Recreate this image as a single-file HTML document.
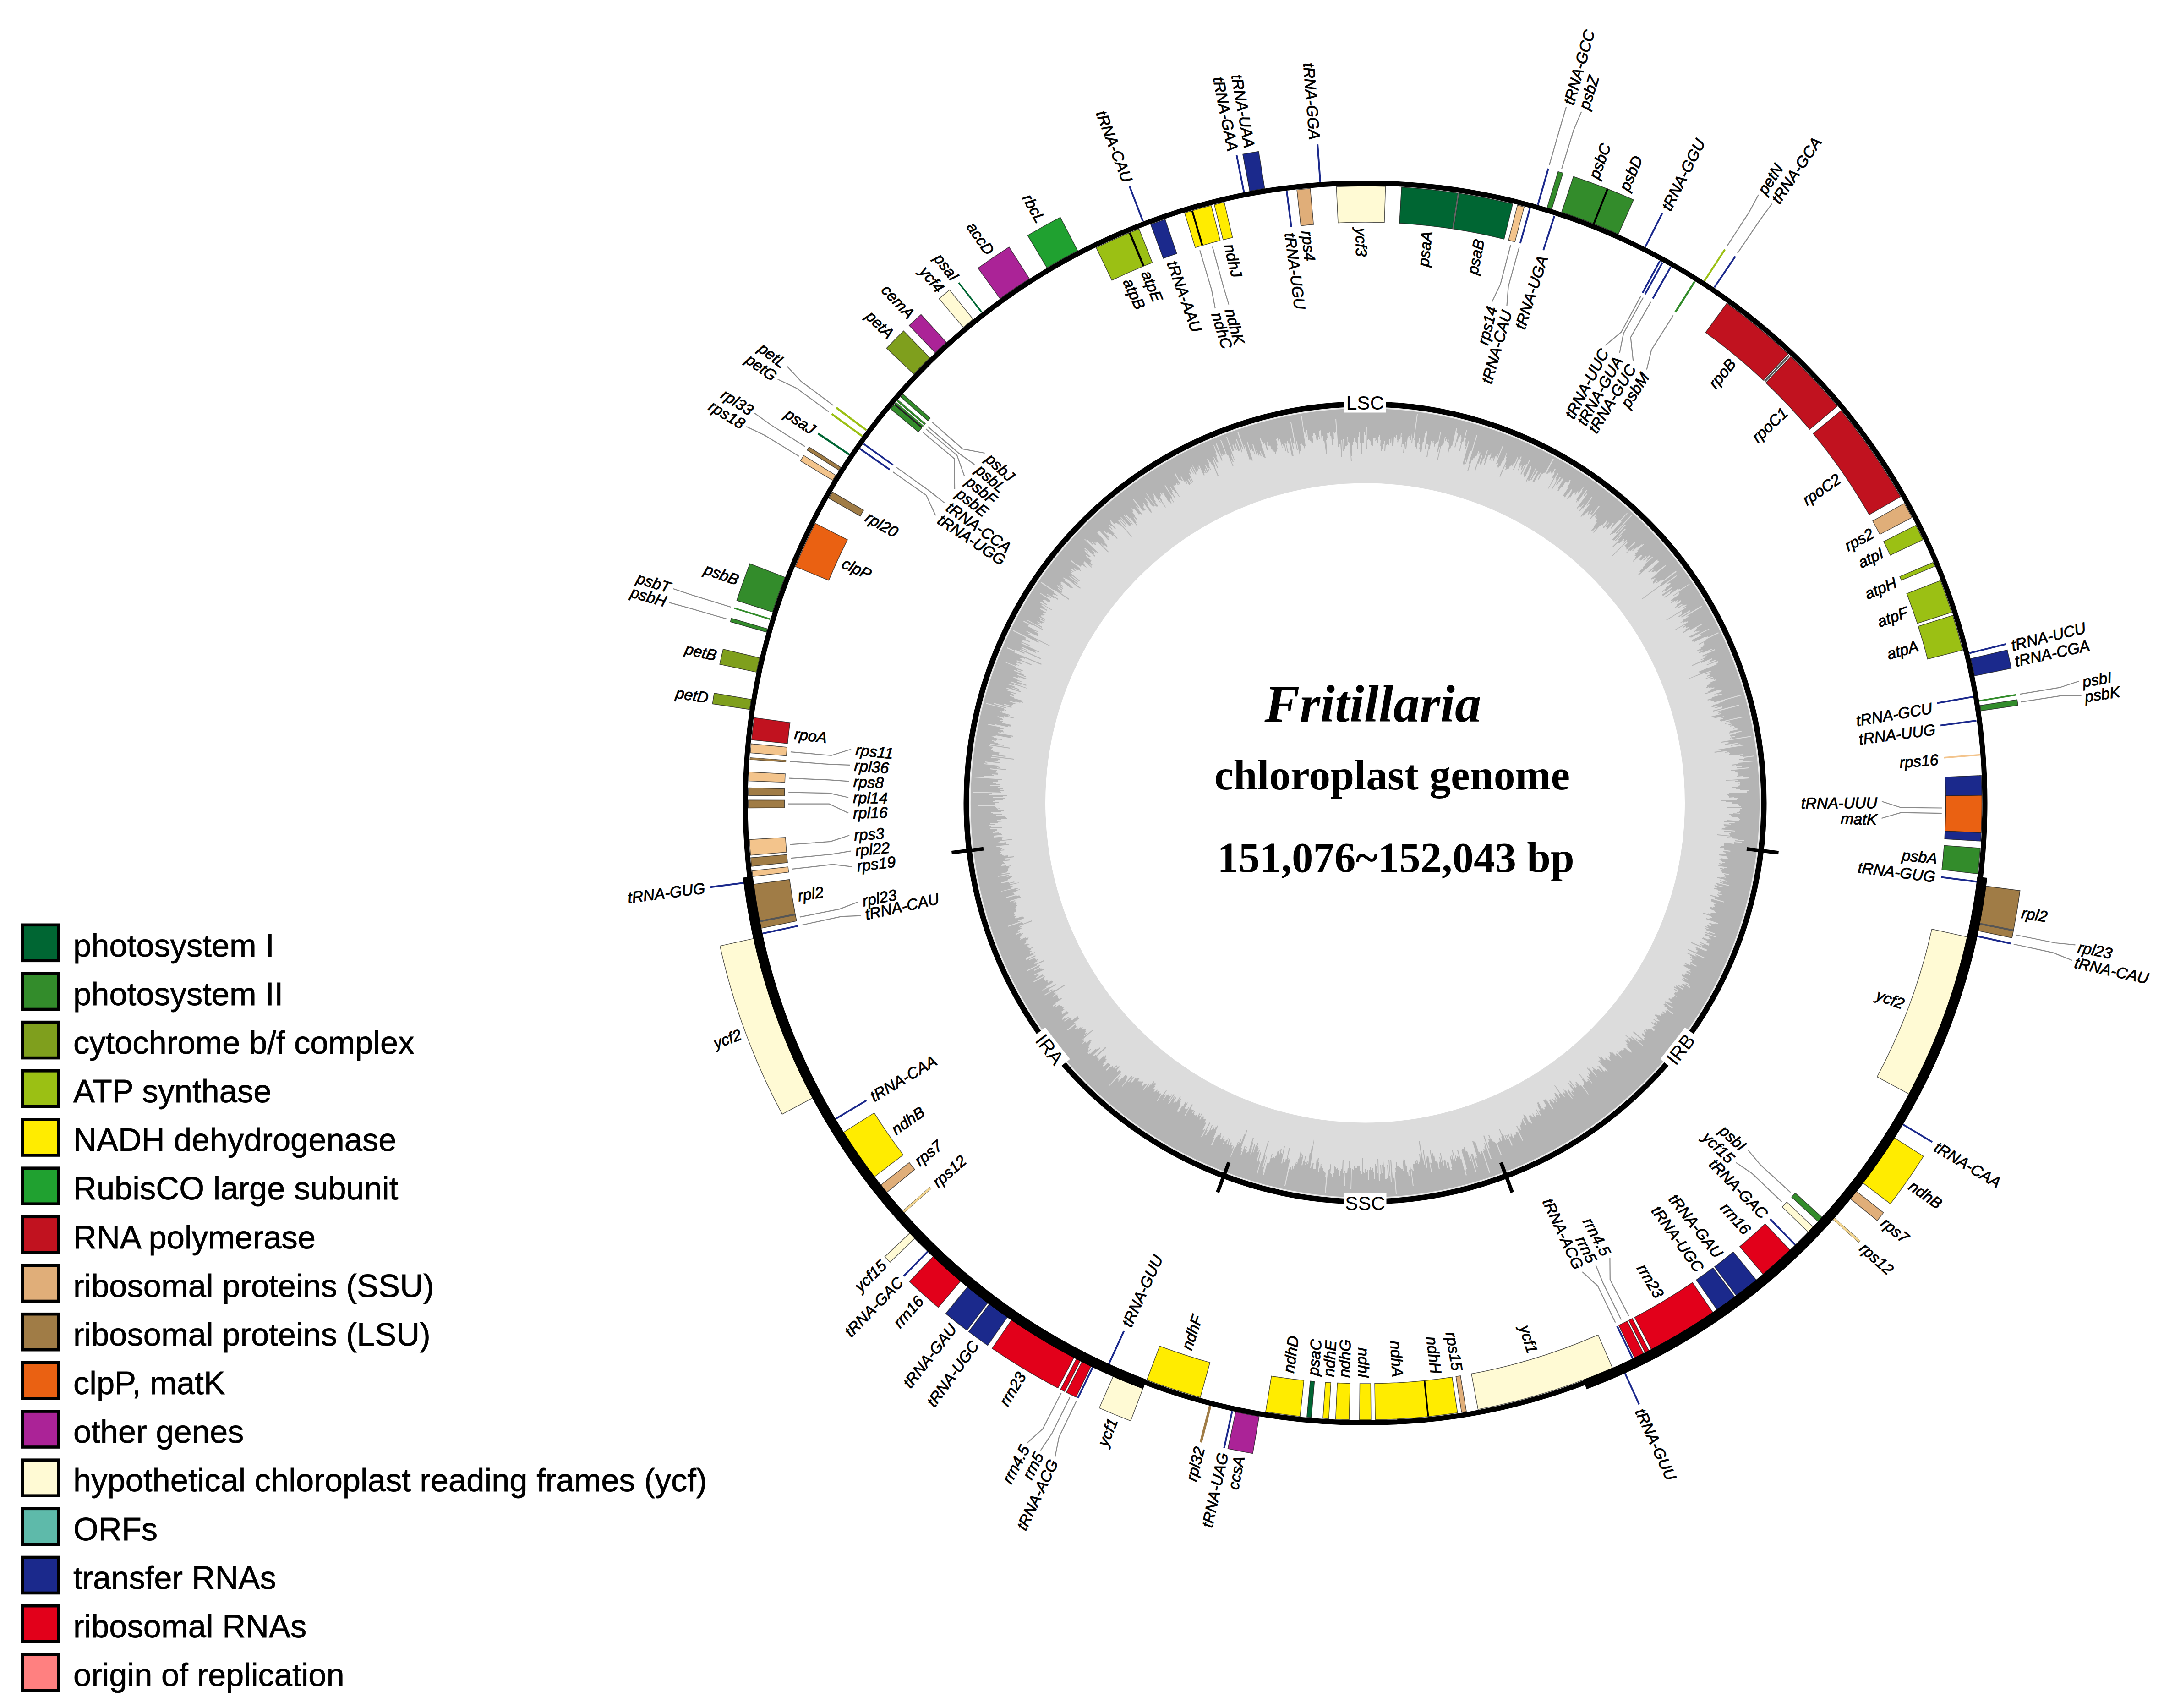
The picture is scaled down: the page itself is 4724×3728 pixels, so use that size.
<!DOCTYPE html>
<html><head><meta charset="utf-8"><title>Fritillaria chloroplast genome</title>
<style>html,body{margin:0;padding:0;background:#fff}svg{display:block}</style></head>
<body>
<svg width="4724" height="3728" viewBox="0 0 4724 3728">
<rect width="4724" height="3728" fill="#fff"/>
<circle cx="2980.0" cy="1752.5" r="781.0" fill="none" stroke="#dcdcdc" stroke-width="166.0"/>
<path d="M2980,888.5A864.0,864.0 0 1 1 2980,2616.5A864.0,864.0 0 1 1 2980,888.5ZM2980,949L2982,949L2982,932L2984,932L2983,979L2985,979L2985,961L2987,961L2987,958L2989,958L2989,961L2991,961L2991,963L2993,964L2993,971L2995,971L2995,974L2997,974L2997,956L2999,956L2999,956L3001,956L3001,955L3003,955L3002,963L3004,963L3004,961L3006,961L3006,966L3008,966L3009,954L3010,954L3011,950L3013,950L3012,960L3014,960L3013,974L3015,974L3015,984L3017,984L3017,980L3019,980L3019,969L3021,969L3022,963L3023,963L3022,985L3024,985L3025,971L3027,971L3027,970L3029,970L3029,975L3030,975L3031,972L3032,972L3033,959L3035,959L3035,968L3037,968L3038,954L3039,955L3038,973L3040,973L3040,969L3042,970L3043,953L3045,954L3045,956L3047,956L3048,949L3050,949L3049,960L3051,960L3050,965L3052,966L3053,960L3054,961L3055,959L3057,959L3058,946L3060,946L3059,954L3061,954L3059,976L3061,976L3061,970L3063,970L3063,969L3065,969L3063,988L3065,988L3068,964L3069,964L3068,979L3070,979L3073,955L3074,955L3075,952L3077,952L3076,957L3078,957L3078,961L3080,961L3082,946L3083,946L3081,967L3083,967L3084,956L3086,956L3093,904L3095,904L3087,961L3089,961L3088,970L3090,970L3089,976L3091,976L3091,978L3093,979L3094,968L3096,968L3098,957L3100,957L3098,969L3100,969L3098,980L3100,981L3099,987L3101,987L3101,986L3103,986L3106,964L3108,964L3111,945L3113,946L3114,941L3116,942L3110,980L3112,980L3113,970L3115,970L3115,969L3117,970L3117,971L3119,971L3114,997L3116,998L3119,979L3121,980L3124,963L3126,963L3125,968L3127,968L3128,963L3130,963L3129,967L3131,968L3130,974L3132,975L3133,969L3135,970L3135,966L3137,967L3138,964L3140,964L3144,942L3146,942L3137,986L3139,987L3142,975L3144,975L3137,1004L3139,1004L3146,973L3148,973L3149,970L3151,970L3154,954L3156,954L3154,962L3156,963L3157,959L3159,959L3158,965L3160,965L3161,959L3163,960L3161,967L3163,968L3162,970L3164,971L3160,987L3162,988L3164,979L3166,979L3168,973L3170,974L3179,934L3181,934L3179,944L3181,945L3181,945L3183,946L3175,976L3177,977L3180,963L3182,964L3185,952L3187,953L3188,950L3190,950L3189,954L3191,955L3188,966L3190,966L3185,984L3187,985L3192,964L3194,965L3201,938L3203,938L3198,956L3200,957L3198,965L3200,966L3198,973L3200,974L3198,979L3200,980L3205,963L3207,964L3193,1012L3195,1012L3194,1015L3196,1015L3200,1002L3201,1002L3199,1012L3200,1013L3209,985L3211,985L3211,985L3212,985L3223,950L3225,950L3206,1012L3208,1012L3203,1028L3205,1028L3213,1003L3215,1004L3216,1000L3218,1001L3220,995L3222,995L3222,995L3223,996L3227,985L3229,985L3227,991L3229,992L3230,987L3232,988L3219,1026L3221,1027L3226,1011L3228,1012L3234,994L3236,995L3230,1012L3232,1012L3231,1014L3233,1015L3238,1001L3240,1001L3246,983L3248,983L3240,1007L3242,1007L3239,1014L3241,1015L3249,993L3251,994L3251,994L3253,994L3254,989L3256,990L3251,1004L3253,1004L3255,999L3257,1000L3255,1005L3257,1006L3259,998L3261,999L3259,1005L3261,1006L3264,996L3266,997L3268,991L3270,992L3267,1000L3269,1000L3280,973L3282,973L3266,1012L3268,1013L3269,1011L3271,1012L3268,1018L3270,1019L3269,1020L3271,1021L3273,1017L3275,1018L3279,1007L3281,1008L3289,988L3290,989L3287,997L3289,998L3287,1003L3289,1004L3273,1040L3275,1041L3286,1015L3288,1015L3286,1019L3288,1020L3286,1025L3288,1026L3289,1023L3291,1024L3291,1023L3293,1024L3296,1017L3297,1018L3299,1014L3301,1015L3300,1016L3302,1017L3305,1010L3307,1011L3312,998L3314,999L3303,1025L3305,1025L3315,1002L3317,1003L3320,996L3322,997L3319,1003L3321,1004L3316,1014L3318,1015L3313,1027L3314,1027L3320,1016L3322,1016L3321,1019L3322,1019L3320,1025L3322,1026L3327,1014L3329,1015L3319,1035L3321,1036L3332,1013L3334,1014L3338,1004L3340,1005L3325,1035L3327,1036L3326,1038L3328,1039L3327,1041L3329,1042L3341,1017L3343,1018L3342,1020L3343,1021L3338,1033L3339,1034L3331,1050L3333,1051L3335,1046L3337,1047L3336,1049L3338,1050L3352,1022L3353,1023L3341,1047L3343,1048L3349,1037L3350,1037L3355,1028L3357,1029L3345,1052L3347,1053L3348,1051L3349,1052L3359,1035L3360,1036L3363,1031L3364,1032L3357,1046L3359,1047L3366,1034L3367,1035L3369,1032L3371,1033L3372,1031L3373,1032L3390,1001L3392,1002L3375,1034L3376,1035L3377,1033L3379,1034L3381,1031L3382,1032L3384,1029L3386,1030L3385,1031L3387,1032L3386,1033L3388,1034L3394,1023L3396,1024L3392,1031L3394,1032L3388,1043L3390,1044L3390,1042L3392,1043L3379,1067L3380,1067L3400,1033L3402,1034L3396,1044L3398,1045L3396,1048L3398,1049L3388,1066L3389,1067L3405,1041L3407,1042L3397,1058L3399,1059L3403,1052L3404,1053L3410,1044L3412,1046L3412,1045L3413,1046L3401,1066L3403,1067L3400,1071L3402,1072L3408,1063L3410,1064L3417,1052L3419,1053L3419,1052L3421,1053L3421,1053L3423,1054L3427,1047L3429,1049L3427,1051L3428,1053L3421,1064L3423,1065L3412,1082L3414,1083L3414,1083L3415,1084L3415,1084L3416,1086L3422,1077L3423,1078L3430,1068L3432,1069L3430,1072L3431,1073L3421,1089L3422,1090L3426,1085L3428,1086L3435,1075L3437,1076L3438,1074L3440,1075L3437,1079L3439,1080L3444,1072L3446,1073L3444,1076L3446,1077L3456,1063L3457,1064L3453,1070L3455,1071L3441,1090L3443,1092L3440,1096L3441,1097L3444,1093L3445,1095L3463,1069L3465,1070L3457,1081L3459,1083L3463,1077L3465,1078L3442,1109L3444,1110L3447,1105L3449,1106L3450,1106L3451,1107L3456,1100L3457,1101L3447,1115L3449,1116L3454,1109L3456,1110L3475,1084L3476,1086L3463,1103L3465,1104L3468,1100L3470,1101L3450,1127L3452,1128L3454,1125L3456,1126L3461,1120L3462,1121L3467,1115L3468,1116L3467,1118L3468,1119L3465,1124L3466,1125L3475,1114L3476,1115L3471,1122L3472,1123L3473,1122L3475,1124L3490,1104L3492,1105L3470,1133L3471,1134L3478,1126L3479,1127L3483,1122L3485,1123L3481,1129L3482,1130L3484,1127L3486,1128L3483,1132L3485,1133L3485,1132L3486,1134L3484,1137L3485,1138L3485,1139L3486,1140L3479,1149L3480,1150L3473,1159L3475,1160L3477,1157L3478,1158L3484,1152L3485,1153L3478,1162L3479,1163L3493,1147L3494,1148L3497,1145L3498,1147L3507,1136L3509,1138L3506,1141L3507,1142L3499,1151L3501,1153L3512,1140L3513,1141L3505,1150L3507,1151L3508,1150L3509,1151L3506,1155L3508,1156L3521,1141L3523,1142L3518,1148L3519,1149L3516,1153L3517,1154L3535,1135L3536,1136L3552,1119L3553,1120L3538,1137L3540,1138L3514,1167L3515,1168L3518,1165L3520,1166L3522,1163L3524,1164L3561,1124L3563,1125L3527,1163L3529,1165L3547,1145L3549,1146L3519,1178L3521,1179L3521,1178L3523,1180L3547,1154L3549,1155L3525,1180L3527,1181L3539,1168L3541,1169L3532,1178L3534,1179L3520,1193L3522,1194L3531,1185L3532,1186L3533,1185L3535,1186L3545,1176L3546,1178L3544,1179L3546,1181L3542,1185L3543,1186L3551,1178L3552,1180L3519,1213L3520,1214L3551,1183L3553,1185L3546,1191L3548,1192L3548,1192L3549,1194L3550,1193L3551,1195L3549,1196L3551,1197L3550,1198L3551,1200L3568,1183L3570,1185L3553,1200L3555,1202L3550,1206L3551,1207L3558,1201L3559,1203L3566,1197L3567,1198L3563,1202L3564,1203L3574,1194L3575,1196L3584,1188L3585,1189L3588,1187L3589,1188L3574,1202L3576,1203L3569,1209L3571,1211L3568,1213L3569,1214L3571,1213L3572,1215L3568,1218L3570,1219L3564,1225L3565,1226L3582,1211L3583,1212L3584,1212L3585,1213L3579,1219L3580,1220L3579,1221L3580,1223L3581,1222L3582,1224L3593,1214L3595,1215L3587,1222L3588,1224L3601,1212L3603,1214L3596,1219L3597,1221L3593,1225L3594,1226L3607,1215L3608,1217L3591,1231L3592,1233L3586,1238L3587,1240L3579,1247L3580,1248L3580,1248L3582,1249L3576,1254L3578,1255L3618,1221L3619,1223L3618,1224L3620,1225L3621,1224L3622,1226L3610,1236L3611,1237L3598,1248L3600,1249L3609,1242L3610,1243L3605,1247L3607,1249L3608,1248L3609,1249L3613,1246L3614,1248L3614,1248L3615,1249L3636,1233L3637,1235L3617,1251L3618,1252L3604,1263L3605,1265L3607,1263L3609,1264L3613,1261L3614,1262L3610,1266L3611,1267L3608,1270L3609,1271L3608,1272L3609,1274L3617,1267L3619,1269L3615,1272L3616,1273L3625,1267L3626,1268L3630,1266L3631,1267L3658,1246L3660,1248L3626,1273L3627,1275L3584,1307L3585,1308L3626,1278L3627,1279L3659,1256L3661,1257L3639,1273L3640,1275L3645,1272L3646,1273L3646,1273L3648,1274L3636,1283L3637,1284L3628,1291L3629,1293L3634,1288L3636,1290L3649,1281L3650,1283L3628,1298L3629,1299L3629,1299L3630,1301L3650,1287L3651,1289L3645,1293L3646,1295L3633,1303L3634,1305L3663,1285L3665,1287L3667,1285L3668,1287L3688,1274L3689,1275L3652,1300L3653,1301L3665,1293L3666,1295L3664,1297L3665,1298L3647,1310L3648,1312L3651,1310L3652,1312L3647,1315L3648,1317L3656,1311L3657,1313L3663,1309L3664,1311L3659,1314L3660,1316L3669,1310L3670,1312L3669,1313L3670,1314L3660,1320L3661,1322L3656,1326L3657,1327L3671,1318L3673,1320L3662,1326L3663,1328L3675,1320L3676,1322L3681,1319L3682,1321L3674,1326L3675,1327L3680,1324L3681,1326L3637,1353L3638,1354L3671,1334L3672,1336L3671,1337L3672,1338L3671,1339L3672,1340L3664,1345L3665,1347L3689,1332L3690,1334L3670,1346L3671,1348L3715,1322L3716,1324L3681,1345L3682,1346L3685,1344L3686,1346L3674,1353L3675,1355L3668,1359L3668,1360L3674,1357L3675,1359L3679,1356L3680,1358L3684,1356L3685,1358L3655,1375L3656,1376L3677,1364L3678,1366L3674,1368L3675,1370L3680,1367L3681,1369L3680,1369L3681,1371L3686,1368L3687,1370L3679,1374L3680,1376L3673,1380L3674,1382L3689,1373L3690,1375L3714,1362L3715,1364L3705,1369L3705,1371L3702,1373L3703,1375L3697,1378L3698,1380L3703,1377L3704,1379L3709,1376L3710,1378L3686,1390L3687,1392L3690,1390L3691,1392L3731,1372L3732,1373L3711,1384L3711,1386L3713,1385L3714,1387L3693,1397L3694,1399L3694,1399L3695,1401L3698,1399L3699,1401L3722,1390L3723,1391L3728,1389L3729,1391L3751,1380L3752,1382L3725,1395L3726,1397L3709,1405L3709,1407L3719,1402L3719,1404L3719,1404L3720,1406L3720,1406L3721,1408L3717,1409L3718,1411L3712,1414L3713,1416L3705,1419L3706,1421L3711,1419L3712,1420L3716,1419L3717,1420L3709,1424L3709,1426L3716,1423L3717,1425L3737,1416L3738,1417L3731,1421L3732,1422L3743,1417L3744,1419L3716,1431L3717,1433L3725,1430L3726,1431L3720,1434L3721,1436L3712,1440L3712,1441L3720,1438L3720,1440L3693,1452L3693,1454L3714,1445L3714,1447L3737,1437L3738,1439L3733,1441L3734,1443L3728,1445L3728,1447L3745,1440L3746,1442L3725,1451L3726,1452L3750,1443L3751,1445L3749,1445L3750,1447L3747,1448L3748,1450L3708,1466L3709,1468L3710,1467L3711,1469L3710,1469L3710,1471L3686,1481L3686,1482L3734,1464L3735,1466L3723,1470L3724,1472L3733,1468L3734,1470L3731,1471L3732,1473L3726,1475L3727,1477L3732,1475L3733,1477L3723,1481L3723,1482L3739,1477L3739,1479L3733,1481L3734,1483L3742,1480L3742,1482L3741,1482L3742,1484L3745,1483L3746,1485L3734,1489L3735,1491L3731,1492L3731,1494L3726,1496L3726,1498L3726,1498L3727,1499L3725,1500L3725,1502L3730,1500L3731,1502L3736,1500L3737,1502L3742,1500L3743,1502L3734,1505L3734,1507L3729,1509L3730,1511L3722,1513L3723,1515L3751,1506L3752,1507L3759,1505L3760,1507L3757,1508L3758,1510L3742,1515L3743,1516L3749,1514L3750,1516L3758,1514L3759,1516L3737,1522L3738,1524L3727,1527L3728,1529L3736,1527L3736,1528L3733,1529L3733,1531L3739,1530L3739,1531L3741,1531L3742,1533L3801,1516L3802,1518L3766,1528L3766,1530L3753,1534L3753,1535L3740,1539L3740,1541L3735,1543L3735,1544L3753,1540L3753,1541L3742,1545L3743,1546L3759,1542L3760,1544L3759,1544L3759,1546L3739,1551L3740,1553L3796,1538L3797,1540L3745,1554L3746,1555L3758,1552L3758,1554L3751,1556L3751,1558L3756,1557L3756,1559L3735,1564L3735,1566L3744,1564L3744,1566L3740,1567L3741,1568L3764,1563L3764,1565L3758,1566L3759,1568L3761,1568L3761,1569L3754,1571L3755,1573L3756,1573L3756,1575L3803,1564L3804,1566L3768,1574L3769,1576L3777,1574L3777,1576L3765,1579L3766,1580L3779,1577L3780,1579L3773,1581L3774,1583L3781,1581L3782,1583L3776,1584L3776,1586L3785,1584L3786,1586L3786,1586L3787,1588L3783,1589L3783,1591L3792,1589L3793,1591L3795,1590L3795,1592L3777,1596L3777,1598L3774,1599L3774,1601L3801,1595L3802,1597L3789,1600L3789,1602L3776,1604L3776,1606L3778,1606L3778,1608L3788,1606L3788,1608L3777,1610L3777,1612L3780,1611L3781,1613L3823,1606L3823,1608L3758,1619L3758,1621L3773,1619L3773,1621L3774,1620L3774,1622L3765,1624L3765,1626L3795,1621L3795,1623L3779,1626L3779,1628L3799,1624L3800,1626L3807,1625L3807,1627L3750,1636L3750,1638L3757,1637L3757,1639L3742,1641L3743,1643L3770,1639L3771,1641L3765,1641L3765,1643L3774,1642L3774,1644L3777,1644L3777,1645L3774,1646L3774,1648L3778,1647L3778,1649L3805,1646L3805,1648L3798,1649L3798,1651L3805,1650L3806,1652L3830,1649L3830,1651L3808,1654L3808,1656L3797,1657L3797,1659L3804,1658L3804,1660L3803,1660L3803,1662L3828,1660L3828,1662L3795,1665L3795,1667L3780,1669L3781,1671L3789,1670L3789,1672L3799,1671L3799,1673L3802,1672L3802,1674L3792,1675L3792,1677L3817,1675L3817,1677L3778,1681L3778,1682L3788,1682L3788,1684L3783,1684L3784,1686L3792,1685L3793,1687L3793,1687L3793,1689L3795,1689L3795,1691L3795,1691L3795,1693L3792,1693L3792,1695L3804,1694L3804,1696L3818,1695L3818,1697L3818,1697L3818,1699L3768,1703L3768,1704L3793,1703L3793,1705L3787,1705L3787,1707L3799,1707L3799,1708L3793,1709L3793,1711L3799,1710L3799,1712L3799,1712L3799,1714L3795,1715L3795,1717L3782,1717L3782,1719L3790,1719L3790,1721L3789,1721L3789,1723L3799,1722L3799,1724L3818,1724L3818,1726L3814,1726L3814,1728L3814,1728L3814,1730L3775,1731L3775,1733L3770,1733L3770,1735L3772,1735L3772,1737L3775,1737L3775,1739L3774,1739L3774,1741L3786,1740L3786,1742L3794,1742L3794,1744L3792,1744L3792,1746L3758,1746L3758,1748L3768,1748L3768,1750L3782,1750L3782,1752L3780,1752L3780,1754L3795,1754L3795,1756L3789,1756L3789,1758L3796,1758L3796,1760L3801,1760L3801,1762L3771,1762L3771,1764L3803,1764L3803,1766L3798,1766L3798,1768L3799,1768L3799,1770L3796,1770L3796,1772L3791,1772L3791,1774L3799,1774L3799,1776L3783,1775L3783,1777L3775,1777L3775,1779L3778,1779L3778,1781L3780,1781L3780,1783L3794,1784L3794,1786L3796,1786L3796,1788L3799,1788L3799,1790L3797,1790L3797,1792L3771,1790L3771,1792L3764,1792L3764,1794L3787,1795L3786,1797L3774,1796L3774,1798L3779,1798L3779,1800L3763,1799L3762,1801L3764,1801L3764,1803L3782,1805L3782,1806L3767,1805L3766,1807L3759,1807L3759,1809L3756,1808L3756,1810L3788,1813L3788,1815L3764,1813L3764,1815L3779,1816L3779,1818L3775,1818L3775,1819L3775,1820L3775,1821L3777,1822L3777,1824L3749,1821L3749,1823L3780,1826L3780,1828L3769,1827L3769,1829L3793,1831L3793,1833L3808,1834L3808,1836L3788,1834L3787,1836L3803,1838L3803,1840L3786,1838L3786,1840L3786,1840L3785,1842L3761,1839L3761,1841L3764,1841L3764,1843L3763,1843L3763,1845L3764,1845L3764,1847L3758,1847L3758,1848L3754,1848L3754,1850L3763,1851L3763,1853L3765,1853L3764,1855L3778,1857L3777,1859L3762,1857L3761,1858L3762,1859L3762,1860L3767,1861L3767,1863L3764,1863L3764,1865L3756,1864L3756,1865L3753,1865L3753,1867L3769,1869L3768,1871L3771,1871L3771,1873L3773,1874L3773,1876L3756,1873L3756,1875L3747,1874L3747,1875L3757,1877L3757,1879L3759,1879L3759,1881L3766,1882L3766,1884L3759,1883L3759,1885L3753,1884L3753,1886L3757,1887L3757,1889L3752,1888L3751,1890L3771,1893L3771,1895L3764,1894L3763,1896L3755,1894L3754,1896L3759,1897L3758,1899L3758,1899L3758,1900L3758,1900L3757,1902L3760,1903L3759,1905L3775,1908L3775,1910L3764,1908L3764,1909L3766,1910L3766,1912L3762,1911L3762,1913L3768,1914L3768,1916L3758,1914L3758,1916L3749,1914L3748,1916L3765,1920L3764,1921L3771,1923L3770,1925L3755,1921L3755,1923L3761,1925L3761,1927L3755,1925L3754,1927L3775,1932L3774,1934L3746,1927L3745,1929L3749,1930L3748,1932L3762,1935L3762,1937L3743,1932L3742,1934L3744,1934L3743,1936L3748,1937L3747,1939L3741,1938L3741,1940L3750,1942L3750,1944L3756,1945L3755,1947L3756,1947L3755,1949L3750,1948L3750,1950L3759,1952L3758,1954L3749,1952L3749,1953L3750,1954L3750,1956L3753,1956L3752,1958L3733,1953L3733,1955L3743,1958L3742,1960L3744,1960L3744,1962L3764,1968L3764,1970L3736,1962L3735,1964L3736,1964L3736,1966L3737,1966L3736,1968L3742,1970L3742,1971L3745,1972L3744,1974L3741,1973L3741,1975L3743,1976L3742,1977L3743,1978L3743,1980L3740,1979L3739,1981L3733,1979L3733,1981L3733,1981L3732,1982L3736,1984L3735,1985L3743,1988L3743,1990L3746,1991L3745,1992L3742,1992L3741,1993L3736,1992L3736,1994L3733,1993L3733,1995L3728,1993L3728,1995L3718,1992L3718,1994L3736,2000L3736,2002L3737,2002L3737,2004L3733,2003L3733,2005L3732,2004L3731,2006L3725,2004L3724,2006L3751,2015L3750,2017L3745,2015L3744,2017L3741,2016L3740,2017L3732,2014L3731,2016L3735,2018L3735,2020L3736,2020L3735,2022L3727,2019L3726,2021L3728,2021L3728,2023L3723,2022L3722,2023L3731,2027L3730,2028L3723,2026L3722,2027L3725,2028L3724,2030L3743,2037L3743,2039L3731,2035L3730,2037L3723,2034L3722,2036L3745,2044L3745,2046L3723,2038L3723,2040L3722,2039L3721,2041L3732,2045L3731,2047L3735,2049L3734,2051L3730,2049L3729,2051L3718,2046L3717,2048L3716,2048L3716,2049L3727,2054L3726,2056L3724,2055L3724,2057L3732,2060L3731,2062L3730,2062L3730,2064L3711,2056L3710,2058L3719,2061L3718,2063L3711,2060L3710,2062L3716,2064L3715,2066L3692,2056L3691,2058L3727,2073L3726,2075L3724,2074L3724,2076L3700,2066L3700,2068L3704,2069L3703,2071L3703,2071L3702,2073L3707,2075L3706,2077L3705,2076L3704,2078L3704,2078L3703,2079L3684,2071L3684,2073L3721,2090L3720,2092L3701,2083L3700,2085L3704,2086L3703,2088L3683,2079L3683,2081L3690,2084L3690,2086L3694,2088L3693,2090L3689,2088L3689,2090L3697,2094L3696,2095L3691,2093L3690,2094L3694,2097L3694,2098L3694,2098L3693,2100L3691,2099L3690,2101L3704,2108L3703,2110L3690,2103L3689,2105L3691,2106L3690,2107L3676,2101L3676,2102L3682,2106L3681,2107L3678,2105L3677,2107L3676,2107L3675,2108L3691,2117L3690,2118L3689,2117L3688,2119L3692,2122L3692,2123L3682,2119L3681,2120L3682,2121L3681,2122L3690,2127L3690,2129L3680,2124L3679,2126L3679,2125L3678,2127L3678,2127L3677,2129L3673,2126L3672,2128L3672,2128L3671,2130L3684,2137L3683,2138L3674,2133L3673,2135L3676,2137L3676,2139L3672,2137L3671,2139L3688,2148L3687,2150L3680,2146L3679,2148L3690,2154L3689,2156L3675,2147L3674,2149L3672,2148L3671,2150L3677,2153L3676,2155L3670,2151L3669,2153L3663,2149L3662,2151L3674,2158L3673,2160L3659,2151L3658,2153L3660,2154L3659,2156L3655,2153L3654,2155L3664,2161L3663,2163L3655,2158L3654,2160L3662,2164L3661,2166L3660,2165L3659,2167L3657,2165L3656,2167L3655,2167L3654,2169L3656,2170L3655,2171L3660,2175L3659,2176L3655,2173L3654,2175L3655,2176L3653,2177L3652,2176L3651,2178L3650,2177L3649,2179L3649,2179L3648,2181L3644,2178L3643,2180L3643,2179L3642,2181L3647,2185L3646,2186L3651,2189L3650,2191L3645,2188L3644,2189L3638,2186L3637,2187L3635,2185L3633,2187L3652,2199L3650,2201L3635,2190L3634,2192L3632,2191L3631,2192L3634,2194L3633,2196L3640,2200L3639,2202L3653,2212L3652,2214L3639,2204L3638,2206L3636,2205L3635,2206L3637,2208L3636,2209L3638,2211L3637,2212L3630,2207L3629,2209L3632,2212L3631,2213L3630,2212L3629,2214L3627,2212L3626,2214L3627,2215L3626,2216L3626,2216L3625,2218L3621,2215L3620,2217L3614,2213L3613,2214L3614,2215L3612,2216L3618,2220L3617,2222L3617,2222L3616,2223L3623,2228L3622,2230L3619,2228L3618,2229L3610,2224L3609,2225L3618,2232L3617,2234L3613,2231L3612,2233L3612,2232L3610,2234L3606,2230L3605,2232L3614,2239L3613,2240L3612,2239L3610,2241L3609,2240L3608,2242L3608,2241L3607,2243L3612,2247L3611,2249L3612,2250L3611,2251L3603,2245L3602,2246L3600,2245L3599,2247L3598,2246L3597,2248L3594,2245L3592,2246L3593,2247L3592,2248L3595,2251L3593,2252L3589,2248L3588,2250L3590,2252L3589,2253L3592,2255L3590,2257L3592,2258L3591,2260L3586,2255L3584,2257L3585,2257L3584,2259L3591,2265L3590,2266L3589,2266L3588,2267L3590,2269L3588,2270L3566,2251L3565,2253L3585,2270L3584,2272L3581,2269L3580,2271L3578,2269L3577,2271L3572,2266L3570,2267L3588,2283L3587,2284L3561,2262L3560,2263L3567,2270L3566,2271L3558,2264L3557,2266L3548,2258L3547,2259L3559,2270L3558,2272L3559,2273L3558,2274L3552,2268L3550,2270L3551,2271L3550,2272L3549,2271L3548,2272L3553,2277L3552,2279L3551,2278L3550,2279L3553,2282L3551,2283L3561,2293L3560,2294L3562,2296L3561,2298L3558,2295L3557,2296L3547,2287L3545,2288L3545,2288L3544,2289L3545,2290L3544,2292L3543,2291L3542,2293L3540,2291L3539,2292L3540,2294L3539,2295L3538,2294L3536,2295L3536,2295L3535,2296L3535,2297L3534,2298L3531,2295L3530,2296L3541,2308L3540,2309L3529,2299L3528,2300L3529,2300L3527,2302L3529,2304L3528,2305L3519,2296L3518,2298L3516,2296L3515,2297L3514,2297L3513,2298L3516,2301L3514,2302L3515,2303L3514,2304L3515,2305L3514,2307L3512,2305L3511,2306L3514,2310L3513,2311L3516,2314L3515,2316L3512,2313L3511,2314L3505,2308L3504,2310L3506,2312L3504,2313L3504,2312L3502,2314L3496,2307L3495,2308L3494,2308L3493,2309L3490,2305L3489,2307L3494,2313L3493,2314L3494,2316L3493,2317L3491,2314L3489,2316L3510,2338L3508,2339L3505,2336L3503,2337L3504,2337L3502,2339L3492,2327L3490,2328L3488,2326L3487,2327L3497,2338L3496,2340L3490,2333L3489,2334L3487,2333L3486,2334L3486,2335L3485,2336L3481,2332L3480,2333L3477,2329L3475,2330L3479,2334L3477,2336L3478,2336L3476,2337L3486,2349L3485,2350L3469,2332L3468,2333L3465,2330L3464,2331L3472,2341L3471,2342L3472,2344L3470,2345L3468,2342L3467,2343L3469,2346L3468,2347L3470,2350L3468,2351L3466,2348L3464,2349L3476,2364L3475,2365L3467,2355L3465,2356L3468,2359L3466,2360L3466,2360L3464,2361L3465,2361L3463,2362L3447,2343L3446,2344L3455,2355L3453,2356L3458,2362L3457,2363L3458,2365L3457,2366L3458,2368L3457,2369L3456,2369L3455,2370L3468,2388L3467,2389L3451,2368L3450,2369L3449,2369L3448,2370L3441,2361L3439,2362L3443,2367L3442,2368L3440,2366L3439,2368L3442,2372L3441,2373L3441,2373L3439,2374L3427,2358L3426,2360L3436,2373L3435,2375L3429,2367L3427,2368L3424,2363L3423,2364L3436,2383L3435,2384L3432,2380L3430,2381L3431,2382L3430,2384L3435,2392L3434,2393L3424,2378L3422,2380L3424,2382L3423,2383L3433,2398L3432,2399L3418,2380L3416,2381L3414,2378L3413,2379L3418,2386L3416,2387L3414,2384L3413,2385L3413,2386L3412,2387L3416,2394L3415,2395L3409,2387L3408,2388L3394,2368L3393,2369L3405,2387L3403,2388L3404,2389L3403,2390L3406,2395L3404,2396L3399,2387L3397,2388L3395,2385L3393,2386L3395,2389L3394,2390L3401,2401L3399,2402L3395,2395L3393,2396L3399,2405L3398,2406L3394,2400L3392,2401L3390,2398L3388,2399L3393,2406L3391,2407L3389,2404L3388,2405L3384,2399L3383,2400L3383,2401L3382,2402L3384,2406L3383,2407L3391,2420L3389,2421L3377,2402L3376,2403L3373,2399L3372,2400L3372,2400L3371,2401L3371,2401L3369,2402L3376,2414L3375,2415L3375,2415L3373,2416L3373,2416L3371,2417L3373,2420L3371,2421L3372,2421L3370,2422L3368,2419L3366,2420L3358,2405L3356,2406L3357,2407L3355,2408L3358,2412L3356,2413L3363,2425L3361,2426L3360,2423L3358,2424L3364,2434L3362,2435L3354,2421L3353,2422L3359,2433L3357,2434L3353,2427L3352,2428L3355,2433L3353,2434L3354,2435L3352,2436L3352,2437L3351,2438L3346,2430L3345,2431L3348,2437L3346,2438L3346,2437L3344,2437L3342,2434L3341,2435L3340,2434L3338,2435L3339,2436L3337,2436L3345,2452L3344,2453L3342,2450L3341,2451L3340,2449L3338,2450L3329,2433L3327,2433L3327,2432L3325,2433L3328,2439L3326,2440L3327,2440L3325,2441L3332,2455L3330,2456L3323,2442L3322,2443L3323,2446L3322,2447L3323,2450L3322,2451L3321,2450L3319,2451L3321,2454L3319,2455L3319,2455L3318,2456L3320,2462L3319,2462L3321,2467L3319,2467L3317,2463L3315,2464L3312,2457L3310,2458L3325,2489L3323,2490L3314,2471L3313,2472L3312,2470L3310,2471L3310,2471L3308,2472L3310,2475L3308,2476L3309,2477L3307,2478L3306,2476L3304,2477L3305,2479L3304,2480L3305,2483L3303,2484L3299,2474L3297,2475L3299,2479L3297,2479L3298,2482L3296,2482L3292,2472L3290,2472L3302,2500L3300,2501L3290,2477L3288,2478L3292,2486L3290,2487L3286,2477L3284,2477L3288,2487L3286,2488L3281,2475L3279,2476L3274,2464L3272,2464L3279,2480L3277,2481L3279,2487L3278,2487L3279,2490L3277,2491L3274,2484L3272,2484L3274,2490L3273,2490L3274,2493L3272,2493L3271,2492L3270,2493L3270,2495L3268,2495L3278,2520L3276,2521L3266,2495L3264,2495L3263,2492L3261,2493L3260,2491L3259,2492L3256,2485L3254,2486L3251,2477L3249,2478L3253,2487L3251,2487L3251,2487L3249,2487L3251,2492L3249,2492L3249,2494L3248,2495L3252,2506L3250,2507L3240,2478L3238,2479L3256,2529L3254,2530L3241,2494L3240,2495L3242,2502L3240,2503L3243,2510L3241,2511L3240,2507L3238,2507L3239,2512L3237,2512L3253,2559L3251,2560L3235,2512L3233,2512L3234,2515L3233,2516L3233,2518L3231,2519L3230,2515L3228,2515L3220,2490L3218,2490L3219,2492L3217,2492L3216,2490L3214,2491L3224,2523L3223,2523L3224,2528L3222,2528L3221,2524L3219,2524L3226,2547L3224,2547L3215,2518L3213,2518L3213,2518L3211,2519L3223,2558L3221,2559L3211,2524L3209,2525L3212,2534L3210,2534L3203,2513L3201,2513L3201,2513L3200,2514L3197,2504L3195,2504L3196,2508L3194,2508L3194,2507L3192,2507L3192,2509L3190,2509L3202,2551L3200,2552L3201,2554L3199,2555L3202,2565L3200,2566L3190,2529L3188,2529L3183,2510L3181,2511L3185,2524L3183,2525L3182,2523L3180,2524L3181,2527L3179,2527L3178,2522L3176,2523L3179,2534L3177,2535L3171,2509L3169,2509L3175,2532L3173,2533L3170,2521L3168,2521L3170,2530L3168,2530L3167,2524L3165,2525L3170,2547L3168,2548L3170,2553L3168,2553L3168,2553L3166,2554L3162,2536L3160,2536L3160,2536L3158,2537L3161,2550L3159,2550L3155,2531L3153,2532L3153,2532L3151,2533L3153,2543L3151,2544L3145,2516L3143,2516L3148,2537L3146,2537L3144,2526L3142,2526L3144,2535L3142,2536L3142,2540L3141,2540L3143,2552L3141,2552L3138,2536L3136,2536L3135,2534L3133,2534L3131,2522L3129,2523L3128,2517L3126,2518L3127,2522L3125,2522L3123,2510L3121,2511L3126,2538L3124,2539L3124,2537L3122,2538L3126,2558L3124,2558L3118,2523L3116,2523L3116,2524L3114,2525L3115,2528L3113,2529L3116,2548L3114,2549L3108,2511L3106,2511L3111,2541L3109,2542L3107,2530L3106,2531L3099,2490L3097,2490L3103,2527L3101,2528L3100,2519L3098,2519L3100,2533L3098,2533L3099,2536L3097,2537L3097,2540L3096,2541L3094,2531L3092,2531L3093,2539L3091,2539L3091,2534L3089,2535L3090,2544L3088,2544L3088,2541L3086,2541L3086,2540L3084,2540L3086,2555L3084,2555L3083,2552L3081,2552L3086,2589L3084,2589L3079,2546L3077,2546L3078,2553L3076,2553L3077,2566L3075,2567L3074,2557L3072,2558L3071,2545L3069,2546L3067,2531L3065,2531L3066,2534L3064,2535L3063,2530L3062,2530L3064,2556L3062,2556L3062,2552L3060,2552L3060,2551L3058,2551L3058,2549L3056,2549L3056,2548L3054,2548L3053,2544L3051,2544L3052,2546L3050,2546L3049,2536L3047,2536L3048,2550L3046,2550L3047,2557L3045,2557L3049,2606L3047,2606L3044,2570L3042,2571L3042,2568L3040,2568L3037,2531L3035,2531L3038,2579L3036,2580L3033,2531L3031,2531L3034,2566L3032,2566L3030,2542L3028,2542L3030,2572L3028,2572L3028,2573L3026,2573L3026,2573L3024,2573L3023,2547L3021,2547L3020,2534L3018,2535L3019,2543L3017,2543L3018,2561L3016,2561L3015,2543L3013,2543L3014,2562L3012,2562L3012,2578L3010,2578L3009,2530L3007,2530L3008,2561L3006,2561L3005,2545L3003,2545L3003,2541L3001,2541L3002,2573L3000,2573L3000,2558L2998,2558L2998,2550L2996,2550L2996,2549L2994,2549L2994,2554L2992,2554L2992,2548L2990,2548L2990,2554L2988,2554L2988,2576L2986,2576L2986,2553L2984,2553L2984,2557L2982,2557L2982,2552L2980,2552L2980,2561L2978,2561L2978,2552L2977,2552L2977,2559L2975,2559L2975,2527L2973,2527L2973,2562L2971,2562L2971,2556L2969,2556L2969,2545L2967,2545L2967,2544L2965,2544L2965,2545L2963,2545L2963,2549L2961,2549L2961,2549L2959,2549L2959,2555L2957,2555L2957,2544L2956,2544L2955,2553L2953,2553L2953,2551L2951,2551L2950,2596L2948,2596L2950,2550L2948,2550L2948,2538L2946,2538L2946,2534L2945,2534L2944,2550L2942,2550L2941,2560L2939,2560L2939,2561L2937,2560L2936,2589L2934,2589L2936,2555L2934,2555L2934,2561L2932,2561L2933,2531L2931,2531L2930,2551L2928,2551L2928,2556L2926,2556L2925,2566L2923,2566L2924,2550L2922,2550L2922,2554L2920,2554L2921,2550L2919,2549L2919,2551L2917,2551L2917,2548L2915,2547L2915,2546L2913,2546L2912,2561L2910,2561L2909,2569L2907,2568L2908,2562L2906,2562L2906,2561L2904,2561L2906,2542L2904,2541L2903,2552L2901,2552L2901,2554L2899,2553L2894,2604L2892,2604L2895,2569L2893,2569L2894,2560L2892,2559L2892,2559L2890,2559L2891,2556L2889,2556L2889,2550L2887,2550L2887,2557L2885,2557L2886,2545L2884,2545L2885,2540L2883,2540L2882,2551L2880,2550L2879,2558L2877,2558L2880,2536L2878,2536L2879,2528L2877,2528L2876,2532L2874,2531L2872,2552L2870,2552L2870,2552L2868,2552L2868,2551L2866,2551L2868,2538L2866,2538L2865,2540L2864,2540L2862,2549L2860,2549L2869,2487L2868,2487L2866,2501L2864,2500L2861,2517L2859,2517L2856,2540L2854,2540L2855,2535L2853,2535L2851,2543L2849,2543L2850,2537L2848,2537L2851,2523L2849,2523L2847,2534L2845,2534L2843,2544L2841,2543L2845,2522L2843,2522L2842,2526L2841,2526L2842,2518L2840,2517L2841,2513L2839,2513L2836,2529L2834,2529L2832,2540L2830,2540L2831,2537L2829,2537L2827,2546L2825,2546L2824,2551L2822,2550L2823,2545L2821,2545L2820,2553L2818,2552L2819,2548L2817,2547L2816,2552L2814,2552L2806,2588L2804,2588L2816,2531L2814,2530L2814,2532L2812,2532L2813,2527L2811,2527L2816,2506L2814,2505L2809,2529L2807,2529L2805,2537L2803,2537L2803,2536L2802,2535L2803,2529L2801,2529L2799,2540L2797,2539L2805,2502L2803,2502L2800,2518L2798,2518L2798,2517L2796,2517L2798,2508L2796,2507L2793,2521L2791,2520L2794,2509L2792,2509L2791,2512L2789,2512L2786,2524L2784,2524L2784,2527L2782,2527L2782,2526L2780,2525L2780,2527L2778,2527L2777,2528L2775,2528L2778,2519L2776,2519L2771,2538L2769,2538L2768,2539L2766,2538L2759,2565L2757,2565L2759,2557L2757,2557L2766,2524L2765,2523L2758,2548L2756,2548L2763,2521L2761,2520L2770,2491L2768,2490L2755,2535L2753,2534L2745,2562L2743,2562L2751,2536L2749,2535L2750,2533L2748,2533L2753,2516L2751,2515L2745,2536L2743,2535L2750,2511L2748,2510L2747,2515L2745,2514L2748,2505L2746,2505L2747,2501L2745,2501L2747,2495L2745,2494L2744,2500L2742,2499L2736,2516L2735,2516L2740,2498L2738,2497L2731,2520L2729,2519L2733,2507L2732,2506L2736,2494L2734,2493L2737,2484L2735,2483L2725,2515L2723,2514L2722,2516L2720,2515L2722,2511L2720,2510L2722,2504L2720,2503L2719,2508L2717,2507L2719,2502L2717,2501L2710,2521L2708,2521L2711,2513L2709,2513L2711,2506L2709,2506L2723,2467L2721,2466L2718,2477L2716,2476L2709,2495L2707,2495L2710,2487L2708,2487L2704,2497L2703,2496L2704,2493L2702,2493L2698,2504L2696,2503L2687,2525L2686,2524L2694,2503L2692,2502L2690,2507L2688,2506L2691,2500L2689,2500L2689,2500L2687,2499L2689,2494L2687,2493L2684,2500L2682,2500L2683,2497L2682,2497L2686,2485L2684,2485L2679,2498L2677,2497L2682,2485L2681,2484L2679,2489L2677,2488L2675,2492L2673,2491L2670,2498L2669,2498L2674,2486L2672,2485L2671,2487L2669,2486L2671,2481L2670,2480L2667,2486L2665,2486L2665,2487L2663,2486L2666,2479L2664,2478L2667,2473L2665,2472L2662,2478L2661,2477L2660,2478L2658,2477L2657,2482L2655,2481L2646,2500L2644,2499L2651,2484L2649,2483L2655,2470L2654,2469L2659,2457L2658,2456L2656,2460L2654,2459L2652,2465L2650,2464L2651,2461L2650,2460L2647,2465L2646,2464L2644,2467L2643,2466L2647,2456L2645,2456L2639,2470L2637,2469L2633,2478L2631,2477L2636,2467L2634,2466L2642,2451L2640,2450L2624,2482L2622,2481L2631,2465L2629,2464L2627,2467L2625,2467L2633,2451L2631,2450L2631,2451L2629,2450L2633,2443L2631,2442L2631,2443L2629,2442L2629,2443L2627,2442L2628,2440L2627,2439L2628,2437L2626,2436L2624,2440L2622,2439L2620,2444L2618,2443L2624,2431L2623,2430L2620,2436L2618,2435L2620,2431L2618,2430L2614,2438L2612,2438L2614,2435L2612,2435L2612,2434L2611,2433L2609,2435L2608,2434L2608,2434L2606,2433L2608,2431L2606,2430L2609,2425L2607,2424L2604,2430L2602,2429L2606,2423L2604,2422L2603,2423L2602,2422L2602,2422L2600,2421L2601,2420L2599,2420L2604,2411L2602,2410L2587,2436L2585,2436L2596,2417L2594,2416L2592,2421L2590,2420L2589,2421L2588,2420L2588,2420L2586,2419L2593,2407L2592,2406L2590,2409L2589,2408L2590,2406L2588,2405L2583,2414L2581,2413L2573,2427L2571,2426L2570,2427L2569,2426L2577,2412L2576,2411L2577,2409L2575,2408L2578,2405L2576,2404L2579,2399L2577,2398L2575,2401L2574,2400L2578,2394L2576,2393L2569,2405L2567,2404L2566,2405L2565,2404L2563,2407L2561,2406L2568,2396L2566,2395L2564,2398L2562,2397L2565,2394L2563,2393L2552,2410L2550,2409L2564,2389L2562,2388L2552,2403L2551,2402L2559,2389L2558,2388L2555,2393L2553,2392L2552,2393L2551,2392L2553,2389L2551,2388L2550,2390L2548,2389L2540,2400L2539,2399L2545,2390L2544,2388L2541,2392L2540,2391L2547,2380L2546,2379L2538,2390L2536,2389L2526,2404L2525,2403L2535,2388L2534,2386L2533,2387L2532,2386L2531,2388L2529,2386L2532,2383L2530,2382L2530,2383L2528,2381L2527,2383L2525,2382L2527,2380L2526,2378L2523,2382L2522,2381L2520,2383L2518,2382L2521,2378L2520,2377L2519,2378L2517,2377L2522,2371L2520,2370L2524,2366L2522,2364L2522,2365L2520,2364L2519,2365L2518,2364L2520,2361L2518,2360L2513,2368L2511,2367L2506,2374L2504,2373L2509,2367L2507,2366L2497,2379L2495,2378L2504,2367L2502,2366L2502,2366L2501,2365L2499,2367L2498,2366L2495,2370L2493,2369L2493,2368L2492,2367L2496,2362L2494,2361L2495,2360L2493,2359L2492,2361L2490,2360L2489,2361L2488,2360L2487,2361L2485,2360L2485,2361L2483,2360L2488,2353L2487,2352L2486,2353L2485,2352L2483,2354L2481,2353L2480,2355L2479,2353L2471,2363L2469,2361L2471,2359L2470,2358L2475,2352L2474,2350L2464,2362L2462,2361L2472,2350L2470,2348L2450,2372L2449,2371L2459,2359L2457,2357L2460,2354L2459,2353L2461,2350L2460,2349L2460,2349L2459,2347L2459,2347L2457,2346L2451,2353L2450,2352L2441,2361L2440,2360L2443,2357L2441,2356L2442,2355L2440,2354L2447,2346L2446,2345L2422,2370L2421,2369L2448,2339L2447,2337L2446,2339L2444,2337L2445,2337L2443,2336L2439,2340L2438,2339L2439,2337L2438,2336L2445,2328L2444,2327L2442,2329L2441,2327L2436,2333L2434,2331L2439,2327L2437,2325L2431,2332L2430,2331L2431,2330L2429,2328L2430,2328L2428,2326L2426,2329L2424,2328L2416,2337L2414,2335L2424,2325L2423,2324L2424,2323L2422,2322L2422,2322L2421,2320L2420,2321L2418,2320L2408,2330L2407,2329L2409,2327L2407,2326L2410,2323L2408,2322L2414,2316L2413,2315L2416,2312L2414,2310L2413,2312L2412,2310L2415,2307L2414,2305L2415,2304L2414,2303L2411,2306L2410,2304L2397,2316L2396,2315L2399,2312L2398,2310L2397,2311L2396,2310L2396,2309L2395,2308L2396,2307L2395,2305L2415,2287L2413,2285L2393,2304L2392,2302L2389,2305L2388,2304L2386,2305L2385,2304L2402,2288L2401,2286L2398,2289L2397,2288L2394,2291L2392,2289L2380,2300L2379,2299L2376,2301L2375,2299L2375,2299L2374,2298L2382,2290L2381,2289L2376,2293L2375,2292L2376,2290L2375,2289L2378,2286L2377,2285L2377,2285L2375,2283L2379,2280L2378,2279L2381,2276L2380,2274L2383,2271L2382,2270L2381,2271L2379,2270L2372,2276L2370,2275L2371,2275L2369,2273L2364,2278L2362,2277L2367,2273L2365,2272L2367,2270L2366,2268L2364,2270L2363,2269L2387,2248L2386,2247L2367,2262L2366,2261L2374,2255L2373,2253L2369,2256L2368,2254L2371,2252L2370,2250L2370,2250L2369,2249L2371,2247L2370,2245L2368,2247L2367,2245L2366,2246L2365,2245L2362,2247L2361,2245L2364,2243L2363,2242L2360,2243L2359,2242L2351,2248L2350,2247L2353,2244L2352,2243L2347,2247L2346,2245L2351,2241L2349,2240L2349,2240L2348,2238L2349,2237L2348,2236L2331,2249L2329,2248L2348,2233L2347,2232L2345,2233L2344,2232L2356,2223L2355,2221L2354,2222L2353,2220L2354,2219L2353,2218L2340,2227L2339,2226L2339,2226L2338,2224L2341,2222L2339,2221L2338,2222L2336,2221L2324,2230L2323,2228L2333,2221L2332,2219L2326,2224L2325,2222L2319,2226L2318,2224L2322,2222L2320,2220L2333,2211L2332,2209L2332,2210L2331,2208L2330,2208L2329,2207L2319,2214L2318,2212L2318,2212L2317,2211L2318,2210L2317,2208L2324,2203L2323,2202L2321,2203L2320,2202L2322,2200L2321,2198L2320,2199L2319,2198L2319,2198L2318,2196L2317,2196L2316,2195L2315,2195L2314,2194L2315,2193L2314,2192L2305,2198L2304,2196L2306,2194L2305,2193L2299,2197L2298,2195L2305,2190L2304,2189L2318,2180L2317,2178L2312,2181L2311,2180L2311,2180L2310,2178L2310,2178L2309,2177L2310,2176L2309,2175L2308,2175L2307,2173L2309,2172L2308,2170L2299,2176L2298,2174L2305,2170L2304,2168L2305,2168L2304,2166L2302,2168L2301,2166L2325,2151L2324,2149L2303,2162L2302,2160L2281,2173L2280,2171L2298,2161L2297,2159L2288,2164L2287,2163L2290,2161L2289,2159L2305,2150L2305,2148L2292,2155L2291,2154L2276,2162L2275,2161L2285,2155L2284,2153L2298,2145L2297,2144L2299,2143L2298,2141L2296,2142L2295,2140L2288,2145L2287,2143L2287,2143L2286,2141L2289,2140L2288,2138L2282,2141L2281,2139L2280,2140L2279,2138L2280,2138L2279,2136L2280,2136L2279,2134L2282,2132L2281,2131L2257,2144L2256,2142L2278,2130L2277,2128L2277,2129L2276,2127L2262,2135L2261,2133L2268,2129L2267,2127L2266,2128L2265,2126L2259,2129L2258,2127L2278,2117L2278,2115L2276,2116L2276,2114L2274,2115L2273,2113L2271,2114L2271,2112L2258,2119L2257,2117L2269,2111L2268,2109L2271,2108L2270,2106L2242,2120L2241,2118L2264,2107L2264,2105L2279,2098L2278,2096L2261,2104L2260,2103L2258,2104L2257,2102L2265,2098L2264,2096L2266,2095L2266,2093L2262,2095L2261,2094L2261,2094L2260,2092L2261,2091L2260,2090L2246,2096L2246,2094L2261,2087L2260,2085L2240,2095L2239,2093L2240,2093L2239,2091L2257,2083L2256,2081L2259,2079L2259,2078L2249,2082L2248,2080L2249,2080L2248,2078L2252,2077L2251,2075L2247,2076L2247,2075L2251,2073L2250,2071L2256,2068L2255,2067L2247,2070L2246,2068L2245,2069L2244,2067L2244,2067L2243,2065L2244,2065L2243,2063L2248,2061L2247,2060L2244,2061L2243,2059L2237,2062L2236,2060L2240,2058L2239,2057L2241,2056L2240,2054L2241,2054L2240,2052L2245,2050L2244,2048L2246,2048L2245,2046L2240,2048L2239,2046L2227,2051L2227,2049L2228,2049L2227,2047L2226,2047L2226,2045L2229,2044L2228,2042L2232,2041L2231,2039L2233,2038L2233,2036L2229,2038L2228,2036L2219,2040L2218,2038L2227,2034L2226,2033L2222,2034L2221,2032L2223,2032L2223,2030L2230,2027L2229,2025L2228,2026L2227,2024L2230,2023L2229,2021L2225,2023L2225,2021L2253,2011L2252,2009L2234,2016L2233,2014L2231,2015L2230,2013L2200,2023L2200,2021L2228,2011L2227,2010L2223,2011L2222,2009L2235,2005L2234,2003L2235,2003L2234,2001L2233,2002L2232,2000L2217,2005L2216,2003L2216,2003L2216,2001L2217,2001L2217,1999L2215,2000L2214,1998L2216,1997L2215,1995L2215,1995L2214,1994L2214,1994L2213,1992L2218,1990L2217,1989L2217,1989L2217,1987L2217,1987L2217,1985L2216,1985L2215,1983L2219,1982L2218,1980L2219,1980L2219,1978L2221,1977L2220,1976L2219,1976L2218,1974L2220,1974L2219,1972L2218,1972L2218,1970L2217,1971L2217,1969L2213,1970L2212,1968L2217,1967L2216,1965L2205,1968L2205,1966L2229,1959L2229,1957L2227,1958L2227,1956L2226,1956L2225,1954L2220,1956L2219,1954L2197,1960L2196,1958L2215,1953L2214,1952L2214,1952L2214,1950L2211,1950L2210,1949L2218,1947L2217,1945L2227,1942L2226,1941L2218,1943L2218,1941L2222,1940L2221,1938L2186,1946L2186,1945L2206,1940L2206,1938L2209,1937L2209,1935L2212,1934L2211,1933L2206,1934L2205,1932L2225,1927L2225,1926L2205,1930L2205,1928L2215,1926L2214,1924L2203,1927L2202,1925L2186,1928L2186,1926L2199,1923L2199,1922L2200,1921L2200,1919L2205,1918L2205,1916L2206,1916L2206,1914L2209,1914L2209,1912L2198,1914L2197,1912L2203,1911L2203,1909L2178,1914L2178,1912L2205,1907L2205,1905L2186,1908L2185,1907L2198,1904L2198,1902L2201,1902L2201,1900L2199,1900L2199,1898L2200,1898L2200,1896L2202,1895L2202,1894L2204,1893L2203,1891L2206,1891L2206,1889L2196,1891L2196,1889L2186,1890L2186,1889L2188,1888L2188,1886L2194,1885L2193,1883L2192,1884L2191,1882L2190,1882L2190,1880L2205,1878L2205,1876L2194,1877L2194,1876L2192,1876L2192,1874L2213,1871L2213,1869L2201,1870L2201,1869L2200,1869L2200,1867L2191,1868L2190,1866L2188,1867L2188,1865L2182,1865L2182,1864L2184,1863L2184,1861L2186,1861L2186,1859L2184,1859L2183,1857L2193,1856L2192,1854L2186,1855L2186,1853L2187,1853L2187,1851L2185,1851L2184,1850L2184,1850L2184,1848L2176,1849L2175,1847L2202,1844L2202,1842L2197,1842L2196,1840L2197,1840L2197,1838L2178,1841L2178,1839L2183,1838L2182,1836L2209,1833L2209,1831L2187,1834L2187,1832L2187,1832L2187,1830L2180,1830L2180,1829L2191,1827L2191,1826L2169,1828L2169,1826L2170,1826L2170,1824L2188,1822L2188,1820L2186,1820L2186,1818L2181,1819L2181,1817L2168,1818L2168,1816L2171,1816L2171,1814L2176,1813L2176,1811L2177,1811L2177,1809L2162,1810L2162,1808L2188,1807L2187,1805L2176,1805L2176,1804L2164,1804L2164,1802L2158,1803L2158,1801L2171,1800L2171,1798L2161,1798L2161,1797L2178,1796L2178,1794L2188,1793L2188,1791L2176,1792L2176,1790L2186,1789L2186,1787L2199,1787L2199,1785L2196,1785L2196,1783L2194,1783L2194,1781L2190,1782L2190,1780L2175,1780L2175,1778L2187,1778L2187,1776L2168,1776L2168,1775L2163,1775L2163,1773L2186,1772L2186,1770L2191,1770L2191,1768L2178,1768L2178,1766L2183,1766L2183,1764L2176,1765L2176,1763L2174,1763L2174,1761L2173,1761L2173,1759L2135,1759L2135,1757L2172,1757L2172,1755L2172,1755L2172,1753L2180,1753L2180,1751L2168,1751L2168,1749L2171,1749L2171,1747L2189,1747L2189,1745L2189,1745L2189,1743L2195,1743L2195,1742L2167,1741L2167,1739L2189,1740L2189,1738L2198,1738L2198,1736L2160,1735L2160,1733L2166,1733L2166,1731L2124,1730L2124,1728L2186,1730L2186,1728L2183,1728L2183,1726L2192,1726L2192,1724L2184,1724L2184,1722L2189,1722L2189,1720L2178,1720L2178,1718L2183,1718L2183,1716L2162,1715L2162,1713L2183,1714L2183,1712L2175,1712L2175,1710L2170,1710L2170,1708L2168,1708L2168,1706L2178,1706L2178,1704L2178,1704L2178,1702L2188,1703L2188,1701L2126,1697L2126,1695L2151,1697L2151,1695L2149,1695L2149,1693L2169,1694L2170,1692L2165,1692L2165,1690L2179,1691L2179,1689L2179,1689L2179,1687L2171,1686L2171,1684L2175,1685L2175,1683L2176,1683L2176,1681L2161,1679L2161,1677L2196,1681L2196,1679L2177,1677L2177,1675L2182,1676L2182,1674L2178,1673L2178,1671L2149,1668L2149,1666L2155,1667L2156,1665L2150,1664L2150,1662L2183,1666L2184,1664L2169,1662L2169,1660L2180,1662L2180,1660L2179,1660L2179,1658L2184,1658L2184,1656L2164,1654L2164,1652L2213,1658L2213,1656L2166,1650L2166,1648L2195,1652L2196,1650L2180,1648L2181,1646L2181,1646L2181,1644L2184,1645L2184,1643L2167,1640L2167,1638L2164,1638L2164,1636L2164,1636L2164,1634L2166,1634L2166,1632L2167,1632L2167,1630L2160,1629L2160,1627L2205,1634L2205,1632L2161,1625L2161,1623L2192,1628L2192,1626L2178,1624L2179,1622L2169,1620L2169,1618L2166,1618L2166,1616L2175,1617L2175,1616L2176,1616L2176,1614L2187,1615L2187,1614L2169,1610L2169,1608L2164,1607L2164,1606L2173,1607L2174,1605L2207,1611L2207,1609L2205,1609L2206,1607L2211,1608L2212,1606L2178,1600L2178,1598L2186,1599L2186,1597L2192,1599L2192,1597L2189,1596L2189,1594L2181,1592L2181,1591L2190,1592L2191,1590L2182,1589L2183,1587L2157,1582L2158,1580L2172,1583L2173,1581L2201,1587L2201,1585L2208,1586L2208,1584L2207,1584L2207,1582L2188,1578L2188,1576L2189,1576L2189,1574L2183,1573L2183,1571L2190,1572L2190,1570L2187,1570L2187,1568L2177,1565L2178,1563L2192,1567L2192,1565L2191,1565L2191,1563L2212,1568L2213,1566L2200,1563L2200,1561L2204,1562L2204,1560L2183,1554L2183,1552L2187,1553L2187,1551L2191,1552L2192,1550L2197,1552L2197,1550L2191,1548L2192,1546L2152,1536L2152,1534L2196,1546L2196,1544L2169,1536L2169,1534L2208,1545L2209,1543L2191,1538L2192,1536L2208,1541L2209,1539L2211,1539L2211,1538L2212,1538L2212,1536L2217,1537L2218,1536L2200,1530L2201,1529L2216,1533L2217,1531L2227,1534L2228,1532L2233,1534L2233,1532L2230,1531L2231,1529L2213,1524L2214,1522L2204,1519L2205,1517L2214,1520L2214,1518L2212,1518L2213,1516L2208,1514L2208,1512L2217,1515L2217,1513L2198,1507L2199,1505L2202,1506L2203,1505L2197,1503L2198,1501L2228,1511L2229,1509L2206,1501L2207,1500L2225,1506L2225,1504L2214,1500L2215,1498L2201,1494L2201,1492L2213,1496L2214,1494L2242,1503L2243,1502L2206,1489L2206,1487L2229,1495L2230,1493L2240,1497L2241,1495L2221,1488L2221,1486L2231,1489L2231,1488L2220,1483L2221,1482L2212,1479L2213,1477L2222,1480L2223,1478L2226,1479L2226,1478L2240,1483L2241,1481L2220,1473L2221,1471L2239,1478L2240,1476L2235,1475L2236,1473L2213,1464L2214,1462L2229,1468L2230,1466L2220,1463L2221,1461L2232,1465L2233,1463L2219,1458L2219,1456L2195,1446L2195,1445L2217,1453L2217,1451L2224,1453L2224,1452L2218,1449L2219,1447L2219,1448L2220,1446L2230,1450L2231,1448L2219,1443L2220,1441L2227,1444L2228,1442L2251,1452L2252,1450L2230,1441L2231,1440L2227,1438L2228,1436L2230,1437L2231,1435L2237,1438L2237,1436L2273,1451L2274,1449L2214,1424L2215,1422L2198,1415L2199,1413L2215,1420L2216,1418L2236,1427L2237,1425L2226,1420L2226,1418L2272,1439L2273,1437L2229,1417L2230,1415L2241,1420L2242,1419L2231,1414L2232,1412L2261,1425L2261,1423L2257,1421L2258,1420L2268,1424L2268,1422L2229,1404L2230,1402L2247,1410L2248,1408L2231,1401L2232,1399L2232,1399L2233,1397L2238,1399L2239,1398L2248,1402L2249,1400L2239,1396L2240,1394L2238,1393L2239,1391L2211,1377L2212,1375L2267,1403L2268,1401L2263,1398L2264,1397L2291,1410L2292,1409L2245,1385L2246,1383L2249,1385L2249,1383L2240,1378L2241,1377L2266,1389L2266,1387L2265,1386L2266,1385L2265,1384L2266,1382L2258,1378L2259,1377L2266,1380L2267,1379L2244,1367L2245,1365L2245,1365L2246,1363L2234,1357L2235,1355L2254,1365L2255,1364L2276,1375L2276,1373L2242,1354L2243,1353L2274,1370L2275,1368L2264,1362L2265,1360L2271,1363L2272,1362L2264,1357L2265,1356L2274,1361L2275,1359L2277,1360L2278,1358L2270,1354L2271,1352L2280,1357L2281,1355L2268,1348L2269,1347L2281,1353L2282,1352L2273,1346L2274,1344L2272,1343L2273,1342L2277,1344L2278,1342L2280,1343L2281,1342L2276,1339L2277,1337L2280,1339L2281,1338L2283,1338L2284,1337L2270,1329L2271,1327L2275,1329L2276,1328L2285,1333L2286,1331L2280,1328L2281,1326L2273,1321L2274,1319L2296,1332L2297,1331L2270,1315L2272,1313L2285,1321L2286,1319L2279,1315L2280,1313L2276,1311L2277,1309L2278,1310L2279,1308L2290,1315L2291,1313L2292,1314L2293,1312L2292,1312L2293,1310L2270,1295L2271,1294L2286,1303L2287,1301L2294,1306L2295,1304L2285,1297L2286,1296L2301,1306L2302,1304L2309,1309L2310,1307L2297,1299L2299,1297L2303,1300L2304,1298L2308,1301L2309,1300L2300,1293L2301,1291L2272,1272L2273,1270L2300,1288L2301,1287L2333,1309L2334,1307L2315,1294L2317,1293L2318,1294L2319,1292L2309,1285L2310,1283L2318,1289L2319,1287L2307,1279L2308,1277L2320,1286L2321,1284L2312,1277L2313,1276L2320,1281L2321,1279L2315,1275L2316,1273L2315,1272L2316,1271L2317,1271L2318,1269L2337,1283L2338,1282L2341,1284L2342,1282L2336,1278L2338,1277L2324,1267L2325,1265L2321,1262L2322,1260L2326,1263L2327,1262L2358,1285L2359,1283L2344,1272L2345,1271L2352,1276L2353,1274L2334,1259L2335,1258L2352,1271L2353,1269L2339,1258L2340,1256L2356,1269L2357,1267L2337,1251L2338,1250L2339,1251L2340,1249L2338,1248L2339,1246L2343,1249L2344,1248L2338,1243L2340,1241L2347,1247L2349,1246L2344,1242L2345,1240L2350,1244L2351,1243L2354,1245L2355,1243L2359,1247L2360,1245L2356,1242L2358,1241L2337,1224L2338,1222L2352,1234L2353,1232L2359,1237L2360,1235L2360,1235L2361,1234L2362,1234L2363,1233L2371,1239L2372,1238L2367,1233L2368,1232L2365,1229L2366,1227L2365,1227L2367,1225L2383,1239L2384,1238L2378,1232L2379,1231L2383,1235L2385,1233L2381,1230L2382,1229L2380,1227L2382,1226L2382,1225L2383,1224L2370,1213L2371,1211L2377,1216L2378,1215L2380,1216L2381,1215L2367,1202L2369,1201L2375,1206L2376,1205L2367,1197L2369,1196L2390,1215L2391,1213L2387,1210L2388,1208L2388,1208L2390,1207L2384,1201L2385,1200L2392,1206L2394,1205L2397,1208L2398,1207L2367,1177L2368,1176L2372,1180L2374,1178L2385,1189L2386,1187L2383,1184L2384,1183L2391,1190L2393,1188L2388,1183L2389,1182L2392,1185L2394,1184L2393,1183L2395,1182L2419,1206L2420,1204L2403,1187L2404,1186L2410,1192L2412,1190L2416,1195L2418,1193L2416,1192L2417,1190L2411,1184L2413,1183L2408,1178L2409,1177L2395,1163L2397,1161L2395,1159L2396,1158L2398,1160L2400,1158L2419,1179L2421,1177L2417,1173L2418,1172L2421,1175L2422,1173L2408,1159L2410,1158L2416,1164L2417,1162L2418,1163L2419,1162L2423,1166L2425,1165L2429,1170L2431,1168L2438,1176L2440,1175L2431,1166L2433,1165L2421,1153L2423,1151L2427,1156L2429,1155L2421,1146L2422,1145L2426,1149L2428,1148L2434,1155L2436,1153L2424,1141L2426,1140L2423,1137L2425,1135L2432,1144L2434,1143L2433,1142L2435,1141L2436,1142L2438,1141L2441,1145L2442,1143L2446,1147L2447,1146L2470,1172L2471,1171L2441,1136L2443,1135L2456,1150L2458,1149L2445,1135L2447,1133L2457,1145L2459,1144L2446,1129L2447,1128L2465,1148L2466,1147L2467,1148L2469,1147L2467,1146L2469,1144L2453,1125L2454,1124L2472,1145L2473,1144L2457,1125L2459,1123L2466,1132L2468,1131L2481,1147L2483,1146L2479,1142L2481,1141L2478,1137L2479,1136L2474,1130L2476,1129L2480,1134L2482,1133L2477,1126L2478,1125L2472,1118L2474,1116L2469,1110L2470,1109L2473,1113L2475,1111L2475,1111L2476,1110L2486,1123L2488,1122L2488,1122L2489,1121L2492,1123L2493,1122L2480,1105L2481,1104L2485,1109L2487,1108L2473,1090L2475,1089L2495,1115L2496,1114L2497,1115L2499,1114L2499,1114L2501,1113L2495,1106L2497,1105L2496,1104L2498,1103L2495,1099L2496,1097L2513,1120L2514,1119L2513,1117L2514,1116L2506,1104L2507,1102L2504,1099L2506,1097L2499,1087L2500,1086L2504,1091L2505,1090L2515,1104L2517,1103L2519,1106L2521,1104L2502,1078L2503,1077L2524,1106L2525,1105L2526,1106L2528,1104L2522,1096L2523,1095L2519,1089L2520,1087L2518,1084L2520,1083L2516,1078L2518,1077L2533,1098L2534,1097L2529,1090L2531,1089L2544,1108L2545,1107L2536,1093L2537,1092L2532,1084L2534,1083L2533,1082L2535,1081L2532,1077L2534,1076L2537,1080L2538,1079L2537,1077L2539,1076L2551,1095L2552,1094L2556,1099L2558,1098L2554,1092L2555,1091L2554,1089L2556,1088L2562,1097L2563,1096L2557,1087L2559,1086L2542,1060L2544,1059L2557,1080L2559,1079L2563,1086L2565,1085L2558,1074L2560,1073L2554,1063L2555,1062L2560,1070L2562,1069L2566,1076L2568,1075L2574,1085L2575,1084L2561,1060L2563,1059L2565,1063L2566,1062L2565,1059L2567,1058L2567,1058L2568,1057L2567,1055L2569,1054L2571,1059L2573,1058L2572,1055L2573,1054L2575,1058L2577,1057L2564,1034L2566,1033L2574,1048L2576,1047L2576,1048L2578,1047L2580,1050L2582,1049L2577,1041L2579,1040L2585,1051L2587,1050L2590,1056L2592,1055L2589,1051L2591,1050L2596,1059L2598,1058L2597,1057L2599,1056L2593,1046L2595,1045L2601,1055L2602,1054L2597,1044L2598,1043L2604,1053L2605,1052L2595,1032L2597,1032L2599,1036L2601,1035L2596,1025L2597,1025L2597,1023L2599,1023L2605,1034L2606,1033L2599,1018L2600,1017L2610,1036L2612,1035L2603,1017L2604,1016L2612,1031L2614,1031L2612,1028L2614,1027L2614,1027L2616,1026L2614,1021L2615,1020L2617,1024L2619,1023L2616,1017L2618,1016L2628,1038L2630,1037L2628,1033L2630,1032L2628,1029L2630,1028L2632,1033L2634,1032L2630,1023L2631,1022L2636,1032L2638,1031L2631,1016L2633,1016L2639,1028L2640,1027L2638,1022L2640,1021L2642,1026L2644,1026L2638,1014L2640,1013L2635,1002L2637,1001L2641,1009L2642,1008L2646,1016L2648,1015L2658,1039L2660,1038L2652,1019L2653,1018L2647,1004L2649,1003L2657,1021L2659,1021L2649,998L2650,997L2656,1009L2657,1008L2658,1010L2660,1009L2655,997L2657,996L2653,988L2655,988L2649,972L2650,971L2659,991L2660,990L2667,1006L2669,1005L2654,969L2656,968L2667,996L2669,996L2668,992L2670,992L2670,993L2672,992L2672,993L2674,992L2674,991L2676,991L2664,961L2666,961L2679,994L2681,993L2691,1018L2693,1018L2687,1004L2689,1003L2691,1009L2693,1008L2687,993L2689,992L2694,1004L2695,1003L2677,954L2679,954L2690,984L2692,984L2693,985L2694,984L2690,971L2692,970L2695,979L2697,978L2698,983L2700,982L2695,967L2697,967L2703,985L2705,984L2705,984L2707,983L2698,959L2700,959L2711,988L2712,987L2709,977L2711,976L2712,980L2714,980L2701,943L2703,942L2716,979L2718,978L2716,972L2717,971L2728,1004L2730,1004L2729,1001L2731,1001L2733,1006L2735,1005L2722,966L2724,965L2729,983L2731,982L2730,977L2731,976L2734,984L2736,984L2739,992L2740,992L2734,970L2736,970L2743,993L2745,993L2742,982L2743,982L2748,995L2749,994L2749,992L2751,992L2752,996L2754,995L2750,985L2752,984L2754,991L2756,991L2758,998L2760,998L2761,1000L2763,999L2750,957L2752,956L2755,965L2757,964L2758,969L2760,968L2760,967L2761,967L2766,983L2768,982L2765,971L2767,970L2765,966L2767,965L2769,973L2771,973L2771,973L2773,972L2775,979L2777,979L2778,984L2780,983L2781,987L2783,987L2784,991L2786,990L2785,986L2787,986L2786,985L2788,984L2787,980L2789,980L2787,973L2789,972L2786,959L2788,959L2787,955L2789,955L2791,964L2793,964L2792,959L2794,959L2799,978L2800,978L2798,969L2800,969L2802,974L2804,974L2806,984L2808,984L2804,967L2806,966L2811,989L2813,988L2808,969L2810,968L2809,962L2811,962L2812,967L2814,967L2820,995L2822,995L2822,996L2824,996L2815,951L2816,950L2823,981L2825,981L2822,967L2824,967L2824,969L2826,968L2817,922L2819,922L2831,982L2833,982L2829,964L2831,963L2837,993L2838,993L2837,985L2839,985L2839,986L2841,985L2838,969L2840,969L2840,967L2841,966L2842,971L2844,971L2845,973L2846,973L2848,980L2849,979L2848,973L2850,973L2840,908L2842,908L2847,943L2849,943L2851,954L2853,954L2851,939L2853,938L2856,961L2858,960L2858,960L2860,959L2860,962L2862,962L2864,971L2865,971L2865,967L2867,966L2865,952L2867,952L2866,945L2868,945L2868,946L2870,945L2870,949L2872,949L2874,961L2876,960L2876,960L2877,960L2877,954L2879,954L2879,958L2881,958L2879,940L2881,940L2881,940L2883,939L2885,958L2887,958L2886,952L2888,952L2889,963L2891,963L2895,991L2896,991L2896,983L2897,983L2895,961L2897,961L2896,955L2898,955L2897,946L2899,945L2899,946L2901,946L2901,943L2903,943L2904,951L2906,951L2908,971L2909,971L2909,965L2911,965L2910,959L2912,959L2911,942L2913,942L2913,946L2915,946L2915,944L2917,944L2915,914L2917,914L2921,976L2923,975L2923,969L2925,969L2925,969L2926,968L2928,998L2930,998L2928,961L2930,961L2931,984L2933,984L2932,959L2933,959L2935,980L2937,980L2936,973L2938,973L2938,974L2940,974L2940,972L2942,972L2941,953L2943,953L2943,964L2945,964L2945,967L2947,967L2949,1007L2951,1007L2950,996L2952,996L2951,971L2953,971L2953,965L2955,965L2955,957L2957,957L2957,959L2958,959L2959,964L2961,964L2961,967L2963,967L2963,981L2965,981L2964,954L2966,954L2966,943L2968,943L2968,966L2970,966L2970,959L2972,959L2972,991L2974,991L2974,966L2976,966L2976,967L2978,967L2978,943L2980,943Z" fill="#b4b4b4" fill-rule="evenodd"/>
<circle cx="2980.0" cy="1752.5" r="862.8" fill="none" stroke="#e9e9e9" stroke-width="3.4"/>
<circle cx="2980.0" cy="1752.5" r="870.5" fill="none" stroke="#000" stroke-width="12"/>
<line x1="3813" y1="1852.9" x2="3882.5" y2="1861.2" stroke="#000" stroke-width="8"/>
<line x1="3276.6" y1="2537.3" x2="3301.3" y2="2602.8" stroke="#000" stroke-width="8"/>
<line x1="2682.7" y1="2537.1" x2="2657.9" y2="2602.5" stroke="#000" stroke-width="8"/>
<line x1="2147" y1="1852.6" x2="2077.5" y2="1860.9" stroke="#000" stroke-width="8"/>
<g transform="translate(2980,879) rotate(0)"><rect x="-45.5" y="-21.5" width="91" height="43" fill="#fff"/><text x="0" y="15.2" text-anchor="middle" font-size="42.5" font-family="Liberation Sans, sans-serif">LSC</text></g>
<g transform="translate(2980,2626) rotate(0)"><rect x="-46.5" y="-21.5" width="93" height="43" fill="#fff"/><text x="0" y="15.2" text-anchor="middle" font-size="42.5" font-family="Liberation Sans, sans-serif">SSC</text></g>
<g transform="translate(3668.3,2290.3) rotate(-52)"><rect x="-44.0" y="-21.5" width="88" height="43" fill="#fff"/><text x="0" y="15.2" text-anchor="middle" font-size="42.5" font-family="Liberation Sans, sans-serif">IRB</text></g>
<g transform="translate(2291.7,2290.3) rotate(52)"><rect x="-44.0" y="-21.5" width="88" height="43" fill="#fff"/><text x="0" y="15.2" text-anchor="middle" font-size="42.5" font-family="Liberation Sans, sans-serif">IRA</text></g>
<g>
<path d="M2917.3,407.5A1346.5,1346.5 0 0 1 3024.6,406.7L3022,485.7A1267.5,1267.5 0 0 0 2921,486.4Z" fill="#fffad4" stroke="#1a1a1a" stroke-width="1.5" stroke-opacity=".75"/>
<path d="M3059.6,408.4A1346.5,1346.5 0 0 1 3182.7,421.4L3170.8,499.5A1267.5,1267.5 0 0 0 3054.9,487.2Z" fill="#006633" stroke="#1a1a1a" stroke-width="1.5" stroke-opacity=".75"/>
<path d="M3184.8,421.7A1346.5,1346.5 0 0 1 3302.3,445.1L3283.4,521.9A1267.5,1267.5 0 0 0 3172.8,499.8Z" fill="#006633" stroke="#1a1a1a" stroke-width="1.5" stroke-opacity=".75"/>
<path d="M3312.6,447.7A1346.5,1346.5 0 0 1 3327.4,451.6L3307,527.9A1267.5,1267.5 0 0 0 3293.1,524.3Z" fill="#f3c48c" stroke="#1a1a1a" stroke-width="1.5" stroke-opacity=".75"/>
<line x1="3339.8" y1="455" x2="3318.7" y2="531.1" stroke="#1b298c" stroke-width="3.8"/>
<line x1="3357.1" y1="446.9" x2="3379.9" y2="368.1" stroke="#1b298c" stroke-width="3.8"/>
<path d="M3401.3,374.5A1441,1441 0 0 1 3412.1,377.8L3387.5,456A1359,1359 0 0 0 3377.3,452.9Z" fill="#338c2b" stroke="#1a1a1a" stroke-width="1.5" stroke-opacity=".75"/>
<line x1="3393.4" y1="471" x2="3369.2" y2="546.2" stroke="#1b298c" stroke-width="3.8"/>
<path d="M3434.9,385.2A1441,1441 0 0 1 3509.3,412.2L3479.2,488.5A1359,1359 0 0 0 3409,463Z" fill="#338c2b" stroke="#1a1a1a" stroke-width="1.5" stroke-opacity=".75"/>
<path d="M3509.3,412.2A1441,1441 0 0 1 3566.1,436.1L3532.8,511A1359,1359 0 0 0 3479.2,488.5Z" fill="#338c2b" stroke="#1a1a1a" stroke-width="1.5" stroke-opacity=".75"/>
<line x1="3591.7" y1="538.9" x2="3628.6" y2="465.7" stroke="#1b298c" stroke-width="3.8"/>
<line x1="3623.5" y1="569.7" x2="3585.8" y2="639.1" stroke="#1b298c" stroke-width="3.8"/>
<line x1="3629.3" y1="572.9" x2="3591.2" y2="642.1" stroke="#1b298c" stroke-width="3.8"/>
<line x1="3647.1" y1="582.9" x2="3608" y2="651.5" stroke="#1b298c" stroke-width="3.8"/>
<line x1="3699.5" y1="614.4" x2="3657.3" y2="681.1" stroke="#338c2b" stroke-width="4.5"/>
<line x1="3720.8" y1="613.1" x2="3765.5" y2="544.4" stroke="#9bc014" stroke-width="4"/>
<line x1="3742.3" y1="627.4" x2="3788.3" y2="559.5" stroke="#1b298c" stroke-width="3.8"/>
<path d="M3769.6,661.8A1346.5,1346.5 0 0 1 3903.5,772.6L3849.3,830A1267.5,1267.5 0 0 0 3723.2,725.8Z" fill="#c1121f" stroke="#1a1a1a" stroke-width="1.5" stroke-opacity=".75"/>
<path d="M3909.4,778.2A1346.5,1346.5 0 0 1 4011,886.4L3950.5,937.3A1267.5,1267.5 0 0 0 3854.9,835.4Z" fill="#c1121f" stroke="#1a1a1a" stroke-width="1.5" stroke-opacity=".75"/>
<path d="M4019,896A1346.5,1346.5 0 0 1 4149,1084.3L4080.4,1123.5A1267.5,1267.5 0 0 0 3958,946.3Z" fill="#c1121f" stroke="#1a1a1a" stroke-width="1.5" stroke-opacity=".75"/>
<path d="M4157.1,1098.7A1346.5,1346.5 0 0 1 4173.8,1129.7L4103.8,1166.3A1267.5,1267.5 0 0 0 4088,1137Z" fill="#e0ae79" stroke="#1a1a1a" stroke-width="1.5" stroke-opacity=".75"/>
<path d="M4182.4,1146.4A1346.5,1346.5 0 0 1 4197.8,1178.1L4126.4,1211.8A1267.5,1267.5 0 0 0 4111.9,1182Z" fill="#9bc014" stroke="#1a1a1a" stroke-width="1.5" stroke-opacity=".75"/>
<path d="M4219.9,1227.5A1346.5,1346.5 0 0 1 4223.6,1236.1L4150.6,1266.4A1267.5,1267.5 0 0 0 4147.2,1258.3Z" fill="#9bc014" stroke="#1a1a1a" stroke-width="1.5" stroke-opacity=".75"/>
<path d="M4236,1267.1A1346.5,1346.5 0 0 1 4260.6,1336.4L4185.5,1360.8A1267.5,1267.5 0 0 0 4162.3,1295.6Z" fill="#9bc014" stroke="#1a1a1a" stroke-width="1.5" stroke-opacity=".75"/>
<path d="M4262.8,1343.1A1346.5,1346.5 0 0 1 4284.5,1419L4208,1438.6A1267.5,1267.5 0 0 0 4187.5,1367.1Z" fill="#9bc014" stroke="#1a1a1a" stroke-width="1.5" stroke-opacity=".75"/>
<line x1="4299.1" y1="1425.6" x2="4378.7" y2="1405.8" stroke="#1b298c" stroke-width="3.8"/>
<path d="M4381.8,1418.6A1441,1441 0 0 1 4390.7,1458.6L4310.4,1475.3A1359,1359 0 0 0 4302,1437.6Z" fill="#1b298c" stroke="#1a1a1a" stroke-width="1.5" stroke-opacity=".75"/>
<line x1="4306.4" y1="1521" x2="4228.6" y2="1534.6" stroke="#1b298c" stroke-width="3.8"/>
<line x1="4320.6" y1="1529.8" x2="4401.5" y2="1516.4" stroke="#338c2b" stroke-width="3.5"/>
<path d="M4403.3,1527.1A1441,1441 0 0 1 4405.2,1539.5L4324.1,1551.6A1359,1359 0 0 0 4322.3,1539.9Z" fill="#338c2b" stroke="#1a1a1a" stroke-width="1.5" stroke-opacity=".75"/>
<line x1="4314.5" y1="1572.8" x2="4236.2" y2="1583.3" stroke="#1b298c" stroke-width="3.8"/>
<line x1="4322.4" y1="1647.6" x2="4243.6" y2="1653.7" stroke="#f3c48c" stroke-width="3.5"/>
<path d="M4325.2,1692.6A1346.5,1346.5 0 0 1 4323.9,1835.9L4245.1,1831A1267.5,1267.5 0 0 0 4246.2,1696.1Z" fill="#1b298c" stroke="#1a1a1a" stroke-width="1.5" stroke-opacity=".75"/>
<path d="M4326.4,1736A1346.5,1346.5 0 0 1 4324.9,1817.6L4246,1813.8A1267.5,1267.5 0 0 0 4247.4,1737Z" fill="#ea6112" stroke="#1a1a1a" stroke-width="1.5" stroke-opacity=".75"/>
<path d="M4322.9,1851.1A1346.5,1346.5 0 0 1 4317.6,1907.3L4239.1,1898.2A1267.5,1267.5 0 0 0 4244.1,1845.3Z" fill="#338c2b" stroke="#1a1a1a" stroke-width="1.5" stroke-opacity=".75"/>
<line x1="4315.5" y1="1924.5" x2="4237.1" y2="1914.4" stroke="#1b298c" stroke-width="3.8"/>
<path d="M4409.7,1944A1442.5,1442.5 0 0 1 4395.5,2030.2L4320.9,2015.6A1366.5,1366.5 0 0 0 4334.4,1933.9Z" fill="#a07c46" stroke="#1a1a1a" stroke-width="1.5" stroke-opacity=".75"/>
<path d="M4395.3,2031.4A1442.5,1442.5 0 0 1 4392.1,2047L4317.7,2031.5A1366.5,1366.5 0 0 0 4320.7,2016.8Z" fill="#a07c46" stroke="#1a1a1a" stroke-width="1.5" stroke-opacity=".75"/>
<line x1="4315.2" y1="2043.1" x2="4389.5" y2="2059.3" stroke="#1b298c" stroke-width="3.8"/>
<path d="M4294.3,2045.1A1346.5,1346.5 0 0 1 4167.2,2387.8L4097.6,2350.5A1267.5,1267.5 0 0 0 4217.2,2027.9Z" fill="#fffad4" stroke="#1a1a1a" stroke-width="1.5" stroke-opacity=".75"/>
<line x1="4152.9" y1="2453.6" x2="4218.1" y2="2492.6" stroke="#1b298c" stroke-width="3.8"/>
<path d="M4199,2523.7A1442.5,1442.5 0 0 1 4126.7,2627.6L4066.3,2581.5A1366.5,1366.5 0 0 0 4134.8,2483.1Z" fill="#ffec00" stroke="#1a1a1a" stroke-width="1.5" stroke-opacity=".75"/>
<path d="M4111.7,2646.9A1442.5,1442.5 0 0 1 4097.9,2664.2L4039,2616.2A1366.5,1366.5 0 0 0 4052.1,2599.8Z" fill="#e0ae79" stroke="#1a1a1a" stroke-width="1.5" stroke-opacity=".75"/>
<path d="M4060.9,2707.8A1442.5,1442.5 0 0 1 4057.2,2711.9L4000.4,2661.4A1366.5,1366.5 0 0 0 4003.9,2657.4Z" fill="#f3d58e" stroke="#1a1a1a" stroke-width="0.8" stroke-opacity=".75"/>
<path d="M3977.5,2657A1346.5,1346.5 0 0 1 3968.9,2666.3L3910.9,2612.7A1267.5,1267.5 0 0 0 3919,2603.9Z" fill="#338c2b" stroke="#1a1a1a" stroke-width="1.5" stroke-opacity=".75"/>
<path d="M3958,2678A1346.5,1346.5 0 0 1 3947.3,2689.2L3890.5,2634.3A1267.5,1267.5 0 0 0 3900.6,2623.7Z" fill="#fffad4" stroke="#1a1a1a" stroke-width="1.5" stroke-opacity=".75"/>
<line x1="3919.2" y1="2717.3" x2="3864.1" y2="2660.7" stroke="#1b298c" stroke-width="3.8"/>
<path d="M3907.7,2728.4A1346.5,1346.5 0 0 1 3848.7,2781.3L3797.8,2720.9A1267.5,1267.5 0 0 0 3853.3,2671.2Z" fill="#e2001a" stroke="#1a1a1a" stroke-width="1.5" stroke-opacity=".75"/>
<path d="M3833.8,2793.7A1346.5,1346.5 0 0 1 3790.3,2827.9L3742.8,2764.8A1267.5,1267.5 0 0 0 3783.7,2732.6Z" fill="#1b298c" stroke="#1a1a1a" stroke-width="1.5" stroke-opacity=".75"/>
<path d="M3787,2830.4A1346.5,1346.5 0 0 1 3748.1,2858.4L3703,2793.6A1267.5,1267.5 0 0 0 3739.6,2767.2Z" fill="#1b298c" stroke="#1a1a1a" stroke-width="1.5" stroke-opacity=".75"/>
<path d="M3739.2,2864.6A1346.5,1346.5 0 0 1 3604.9,2945.2L3568.2,2875.3A1267.5,1267.5 0 0 0 3694.6,2799.3Z" fill="#e2001a" stroke="#1a1a1a" stroke-width="1.5" stroke-opacity=".75"/>
<path d="M3599.7,2947.9A1346.5,1346.5 0 0 1 3591.3,2952.2L3555.4,2881.9A1267.5,1267.5 0 0 0 3563.3,2877.8Z" fill="#e2001a" stroke="#1a1a1a" stroke-width="1.5" stroke-opacity=".75"/>
<path d="M3587.7,2954A1346.5,1346.5 0 0 1 3568.2,2963.8L3533.6,2892.7A1267.5,1267.5 0 0 0 3552.1,2883.6Z" fill="#e2001a" stroke="#1a1a1a" stroke-width="1.5" stroke-opacity=".75"/>
<line x1="3564.3" y1="2965.6" x2="3530.1" y2="2894.4" stroke="#1b298c" stroke-width="3.8"/>
<line x1="3546.7" y1="2996" x2="3578.2" y2="3065.1" stroke="#1b298c" stroke-width="3.8"/>
<path d="M3520.1,2985.9A1346.5,1346.5 0 0 1 3226.5,3076.2L3212.1,2998.6A1267.5,1267.5 0 0 0 3488.5,2913.5Z" fill="#fffad4" stroke="#1a1a1a" stroke-width="1.5" stroke-opacity=".75"/>
<path d="M3201.1,3080.7A1346.5,1346.5 0 0 1 3190.6,3082.4L3178.3,3004.4A1267.5,1267.5 0 0 0 3188.1,3002.8Z" fill="#e0ae79" stroke="#1a1a1a" stroke-width="1.5" stroke-opacity=".75"/>
<path d="M3181.8,3083.8A1346.5,1346.5 0 0 1 3117.7,3091.9L3109.6,3013.4A1267.5,1267.5 0 0 0 3170,3005.7Z" fill="#ffec00" stroke="#1a1a1a" stroke-width="1.5" stroke-opacity=".75"/>
<path d="M3117.7,3091.9A1346.5,1346.5 0 0 1 3002.3,3098.8L3001,3019.8A1267.5,1267.5 0 0 0 3109.6,3013.4Z" fill="#ffec00" stroke="#1a1a1a" stroke-width="1.5" stroke-opacity=".75"/>
<path d="M2992.9,3098.9A1346.5,1346.5 0 0 1 2967.8,3098.9L2968.5,3019.9A1267.5,1267.5 0 0 0 2992.2,3019.9Z" fill="#ffec00" stroke="#1a1a1a" stroke-width="1.5" stroke-opacity=".75"/>
<path d="M2945.2,3098.6A1346.5,1346.5 0 0 1 2915.6,3097.5L2919.4,3018.6A1267.5,1267.5 0 0 0 2947.3,3019.6Z" fill="#ffec00" stroke="#1a1a1a" stroke-width="1.5" stroke-opacity=".75"/>
<path d="M2900.6,3096.7A1346.5,1346.5 0 0 1 2887.9,3095.8L2893.3,3017A1267.5,1267.5 0 0 0 2905.3,3017.8Z" fill="#ffec00" stroke="#1a1a1a" stroke-width="1.5" stroke-opacity=".75"/>
<path d="M2862.6,3093.9A1346.5,1346.5 0 0 1 2852.8,3093L2860.3,3014.3A1267.5,1267.5 0 0 0 2869.5,3015.2Z" fill="#006633" stroke="#1a1a1a" stroke-width="1.5" stroke-opacity=".75"/>
<path d="M2838.1,3091.5A1346.5,1346.5 0 0 1 2762.9,3081.4L2775.6,3003.4A1267.5,1267.5 0 0 0 2846.4,3012.9Z" fill="#ffec00" stroke="#1a1a1a" stroke-width="1.5" stroke-opacity=".75"/>
<path d="M2734.7,3172.5A1441,1441 0 0 1 2680.4,3162L2697.4,3081.8A1359,1359 0 0 0 2748.7,3091.7Z" fill="#ab2397" stroke="#1a1a1a" stroke-width="1.5" stroke-opacity=".75"/>
<line x1="2689.8" y1="3080.2" x2="2672.3" y2="3160.3" stroke="#1b298c" stroke-width="3.8"/>
<line x1="2641.8" y1="3068.7" x2="2621.4" y2="3148.2" stroke="#a07c46" stroke-width="5.5"/>
<path d="M2620.2,3050A1346.5,1346.5 0 0 1 2503.6,3011.9L2531.6,2938A1267.5,1267.5 0 0 0 2641.3,2973.9Z" fill="#ffec00" stroke="#1a1a1a" stroke-width="1.5" stroke-opacity=".75"/>
<path d="M1658.5,2010.6A1346.5,1346.5 0 0 1 1645.3,1930.1L1723.6,1919.7A1267.5,1267.5 0 0 0 1736,1995.4Z" fill="#a07c46" stroke="#1a1a1a" stroke-width="1.5" stroke-opacity=".75"/>
<path d="M1661.6,2026.2A1346.5,1346.5 0 0 1 1658.7,2011.7L1736.2,1996.5A1267.5,1267.5 0 0 0 1739,2010.2Z" fill="#a07c46" stroke="#1a1a1a" stroke-width="1.5" stroke-opacity=".75"/>
<line x1="1664.1" y1="2037.7" x2="1741.3" y2="2021" stroke="#1b298c" stroke-width="3.8"/>
<path d="M1707.5,2431.9A1442.5,1442.5 0 0 1 1571.7,2064.7L1645.9,2048.3A1366.5,1366.5 0 0 0 1774.6,2396.1Z" fill="#fffad4" stroke="#1a1a1a" stroke-width="1.5" stroke-opacity=".75"/>
<line x1="1823.7" y1="2442.4" x2="1891.5" y2="2401.9" stroke="#1b298c" stroke-width="3.8"/>
<path d="M1908.9,2568.5A1346.5,1346.5 0 0 1 1841.5,2471.4L1908.3,2429.2A1267.5,1267.5 0 0 0 1971.7,2520.6Z" fill="#ffec00" stroke="#1a1a1a" stroke-width="1.5" stroke-opacity=".75"/>
<path d="M1935.8,2602.6A1346.5,1346.5 0 0 1 1922.9,2586.5L1984.9,2537.5A1267.5,1267.5 0 0 0 1997.1,2552.7Z" fill="#e0ae79" stroke="#1a1a1a" stroke-width="1.5" stroke-opacity=".75"/>
<path d="M1973.7,2647.2A1346.5,1346.5 0 0 1 1970.3,2643.3L2029.5,2591A1267.5,1267.5 0 0 0 2032.8,2594.7Z" fill="#f3d58e" stroke="#1a1a1a" stroke-width="0.8" stroke-opacity=".75"/>
<path d="M1942.9,2755.1A1442.5,1442.5 0 0 1 1931.4,2743.1L1986.6,2690.9A1366.5,1366.5 0 0 0 1997.5,2702.3Z" fill="#fffad4" stroke="#1a1a1a" stroke-width="1.5" stroke-opacity=".75"/>
<line x1="2026" y1="2730.8" x2="1972.9" y2="2785.2" stroke="#1b298c" stroke-width="3.8"/>
<path d="M2048.4,2853.8A1442.5,1442.5 0 0 1 1985.2,2797.1L2037.6,2742.1A1366.5,1366.5 0 0 0 2097.4,2795.8Z" fill="#e2001a" stroke="#1a1a1a" stroke-width="1.5" stroke-opacity=".75"/>
<path d="M2110.9,2903.8A1442.5,1442.5 0 0 1 2064.4,2867.2L2112.6,2808.4A1366.5,1366.5 0 0 0 2156.7,2843.1Z" fill="#1b298c" stroke="#1a1a1a" stroke-width="1.5" stroke-opacity=".75"/>
<path d="M2156.1,2936.6A1442.5,1442.5 0 0 1 2114.5,2906.5L2160.1,2845.7A1366.5,1366.5 0 0 0 2199.5,2874.2Z" fill="#1b298c" stroke="#1a1a1a" stroke-width="1.5" stroke-opacity=".75"/>
<path d="M2309.5,3029.7A1442.5,1442.5 0 0 1 2165.7,2943.2L2208.6,2880.4A1366.5,1366.5 0 0 0 2344.8,2962.4Z" fill="#e2001a" stroke="#1a1a1a" stroke-width="1.5" stroke-opacity=".75"/>
<path d="M2324,3037.2A1442.5,1442.5 0 0 1 2315,3032.6L2350.1,2965.2A1366.5,1366.5 0 0 0 2358.6,2969.5Z" fill="#e2001a" stroke="#1a1a1a" stroke-width="1.5" stroke-opacity=".75"/>
<path d="M2348.8,3049.6A1442.5,1442.5 0 0 1 2327.8,3039.1L2362.2,2971.4A1366.5,1366.5 0 0 0 2382,2981.2Z" fill="#e2001a" stroke="#1a1a1a" stroke-width="1.5" stroke-opacity=".75"/>
<line x1="2385.9" y1="2983.1" x2="2352.9" y2="3051.5" stroke="#1b298c" stroke-width="3.8"/>
<line x1="2420.5" y1="2977.3" x2="2453.4" y2="2905.4" stroke="#1b298c" stroke-width="3.8"/>
<path d="M2468.2,3101.2A1442.5,1442.5 0 0 1 2399.7,3073.1L2430.3,3003.6A1366.5,1366.5 0 0 0 2495.2,3030.1Z" fill="#fffad4" stroke="#1a1a1a" stroke-width="1.5" stroke-opacity=".75"/>
<line x1="1624.7" y1="1926.8" x2="1549.3" y2="1936.5" stroke="#1b298c" stroke-width="3.8"/>
<path d="M1643.1,1913.1A1346.5,1346.5 0 0 1 1641.7,1900.7L1720.2,1892A1267.5,1267.5 0 0 0 1721.5,1903.7Z" fill="#f3c48c" stroke="#1a1a1a" stroke-width="1.5" stroke-opacity=".75"/>
<path d="M1640.6,1890.9A1346.5,1346.5 0 0 1 1638.8,1872.2L1717.5,1865.2A1267.5,1267.5 0 0 0 1719.2,1882.8Z" fill="#a07c46" stroke="#1a1a1a" stroke-width="1.5" stroke-opacity=".75"/>
<path d="M1638.4,1866.8A1346.5,1346.5 0 0 1 1635.9,1832.4L1714.7,1827.7A1267.5,1267.5 0 0 0 1717.1,1860.1Z" fill="#f3c48c" stroke="#1a1a1a" stroke-width="1.5" stroke-opacity=".75"/>
<path d="M1633.5,1763.5A1346.5,1346.5 0 0 1 1633.5,1746.2L1712.5,1746.5A1267.5,1267.5 0 0 0 1712.5,1762.9Z" fill="#a07c46" stroke="#1a1a1a" stroke-width="1.5" stroke-opacity=".75"/>
<path d="M1633.6,1736.3A1346.5,1346.5 0 0 1 1633.9,1719.6L1712.9,1721.5A1267.5,1267.5 0 0 0 1712.6,1737.2Z" fill="#a07c46" stroke="#1a1a1a" stroke-width="1.5" stroke-opacity=".75"/>
<path d="M1634.4,1704.6A1346.5,1346.5 0 0 1 1635.2,1685.1L1714.1,1689A1267.5,1267.5 0 0 0 1713.3,1707.4Z" fill="#f3c48c" stroke="#1a1a1a" stroke-width="1.5" stroke-opacity=".75"/>
<path d="M1636.8,1657.9A1346.5,1346.5 0 0 1 1637.2,1653.4L1715.9,1659.2A1267.5,1267.5 0 0 0 1715.6,1663.4Z" fill="#a07c46" stroke="#1a1a1a" stroke-width="0.8" stroke-opacity=".75"/>
<path d="M1637.9,1643.3A1346.5,1346.5 0 0 1 1639.7,1623.4L1718.3,1631A1267.5,1267.5 0 0 0 1716.7,1649.7Z" fill="#f3c48c" stroke="#1a1a1a" stroke-width="1.5" stroke-opacity=".75"/>
<path d="M1640.6,1614.8A1346.5,1346.5 0 0 1 1646.4,1566.3L1724.7,1577.2A1267.5,1267.5 0 0 0 1719.1,1622.9Z" fill="#c1121f" stroke="#1a1a1a" stroke-width="1.5" stroke-opacity=".75"/>
<path d="M1555.3,1536.3A1441,1441 0 0 1 1559.1,1512.9L1639.9,1526.6A1359,1359 0 0 0 1636.4,1548.6Z" fill="#7f9f1d" stroke="#1a1a1a" stroke-width="1.5" stroke-opacity=".75"/>
<path d="M1571.1,1449.9A1441,1441 0 0 1 1578.6,1416.8L1658.4,1435.9A1359,1359 0 0 0 1651.3,1467.2Z" fill="#7f9f1d" stroke="#1a1a1a" stroke-width="1.5" stroke-opacity=".75"/>
<path d="M1594.3,1357.2A1441,1441 0 0 1 1596.5,1349.5L1675.2,1372.4A1359,1359 0 0 0 1673.1,1379.7Z" fill="#338c2b" stroke="#1a1a1a" stroke-width="1.5" stroke-opacity=".75"/>
<line x1="1681.5" y1="1351.5" x2="1603.1" y2="1327.3" stroke="#338c2b" stroke-width="3.5"/>
<path d="M1608.4,1310.8A1441,1441 0 0 1 1637,1230.2L1713.4,1259.9A1359,1359 0 0 0 1686.4,1335.9Z" fill="#338c2b" stroke="#1a1a1a" stroke-width="1.5" stroke-opacity=".75"/>
<path d="M1736.3,1236.6A1346.5,1346.5 0 0 1 1779.7,1142.2L1850.1,1178.1A1267.5,1267.5 0 0 0 1809.2,1266.8Z" fill="#ea6112" stroke="#1a1a1a" stroke-width="1.5" stroke-opacity=".75"/>
<path d="M1809.2,1087.4A1346.5,1346.5 0 0 1 1817.1,1073.8L1885.3,1113.6A1267.5,1267.5 0 0 0 1877.9,1126.4Z" fill="#a07c46" stroke="#1a1a1a" stroke-width="1.5" stroke-opacity=".75"/>
<path d="M1747.4,1006A1441,1441 0 0 1 1754.6,994.2L1824.4,1037.4A1359,1359 0 0 0 1817.6,1048.5Z" fill="#f3c48c" stroke="#1a1a1a" stroke-width="1.5" stroke-opacity=".75"/>
<path d="M1762,982.5A1441,1441 0 0 1 1766.3,975.7L1835.4,1019.9A1359,1359 0 0 0 1831.3,1026.3Z" fill="#a07c46" stroke="#1a1a1a" stroke-width="1.5" stroke-opacity=".75"/>
<line x1="1853.7" y1="992" x2="1785.8" y2="946.1" stroke="#006633" stroke-width="4.5"/>
<line x1="1877.4" y1="979.6" x2="1942.1" y2="1024.9" stroke="#1b298c" stroke-width="3.8"/>
<line x1="1885.2" y1="968.7" x2="1949.4" y2="1014.7" stroke="#1b298c" stroke-width="3.8"/>
<line x1="1881.9" y1="951.8" x2="1815.7" y2="903.5" stroke="#9bc014" stroke-width="4.5"/>
<line x1="1891.4" y1="939" x2="1825.7" y2="889.9" stroke="#9bc014" stroke-width="4.5"/>
<path d="M1944,892.4A1346.5,1346.5 0 0 1 1951.9,883L2012.2,934A1267.5,1267.5 0 0 0 2004.8,942.9Z" fill="#338c2b" stroke="#1a1a1a" stroke-width="1.5" stroke-opacity=".75"/>
<path d="M1953.4,881.2A1346.5,1346.5 0 0 1 1956.1,878L2016.2,929.3A1267.5,1267.5 0 0 0 2013.6,932.4Z" fill="#338c2b" stroke="#1a1a1a" stroke-width="0.8" stroke-opacity=".75"/>
<path d="M1957.9,875.9A1346.5,1346.5 0 0 1 1960.7,872.7L2020.5,924.3A1267.5,1267.5 0 0 0 2017.9,927.3Z" fill="#338c2b" stroke="#1a1a1a" stroke-width="0.8" stroke-opacity=".75"/>
<path d="M1966.1,866.5A1346.5,1346.5 0 0 1 1971.5,860.3L2030.7,912.6A1267.5,1267.5 0 0 0 2025.6,918.4Z" fill="#338c2b" stroke="#1a1a1a" stroke-width="1.5" stroke-opacity=".75"/>
<path d="M1935.3,760A1441,1441 0 0 1 1972.5,722.2L2029.8,780.9A1359,1359 0 0 0 1994.7,816.5Z" fill="#7f9f1d" stroke="#1a1a1a" stroke-width="1.5" stroke-opacity=".75"/>
<path d="M1984.8,710.4A1441,1441 0 0 1 2010.6,686.4L2065.7,747A1359,1359 0 0 0 2041.4,769.7Z" fill="#ab2397" stroke="#1a1a1a" stroke-width="1.5" stroke-opacity=".75"/>
<path d="M2049.9,651.9A1441,1441 0 0 1 2072.8,632.9L2124.4,696.7A1359,1359 0 0 0 2102.8,714.5Z" fill="#fffad4" stroke="#1a1a1a" stroke-width="1.5" stroke-opacity=".75"/>
<line x1="2143.3" y1="681.6" x2="2092.8" y2="617" stroke="#006633" stroke-width="3.5"/>
<path d="M2135,585.2A1441,1441 0 0 1 2202.8,539.1L2247,608.1A1359,1359 0 0 0 2183.1,651.7Z" fill="#ab2397" stroke="#1a1a1a" stroke-width="1.5" stroke-opacity=".75"/>
<path d="M2243.4,514A1441,1441 0 0 1 2314.6,474.3L2352.5,547.1A1359,1359 0 0 0 2285.4,584.4Z" fill="#20a130" stroke="#1a1a1a" stroke-width="1.5" stroke-opacity=".75"/>
<path d="M2392.9,540.7A1346.5,1346.5 0 0 1 2465.8,508L2496,581.1A1267.5,1267.5 0 0 0 2427.3,611.8Z" fill="#9bc014" stroke="#1a1a1a" stroke-width="1.5" stroke-opacity=".75"/>
<path d="M2466.9,507.6A1346.5,1346.5 0 0 1 2486.5,499.7L2515.5,573.2A1267.5,1267.5 0 0 0 2497,580.6Z" fill="#9bc014" stroke="#1a1a1a" stroke-width="1.5" stroke-opacity=".75"/>
<line x1="2495" y1="483" x2="2465.7" y2="406.4" stroke="#1b298c" stroke-width="3.8"/>
<path d="M2512,490A1346.5,1346.5 0 0 1 2543.4,478.7L2569,553.5A1267.5,1267.5 0 0 0 2539.4,564Z" fill="#1b298c" stroke="#1a1a1a" stroke-width="1.5" stroke-opacity=".75"/>
<path d="M2586.1,464.9A1346.5,1346.5 0 0 1 2602.1,460.1L2624.3,535.9A1267.5,1267.5 0 0 0 2609.2,540.4Z" fill="#ffec00" stroke="#1a1a1a" stroke-width="1.5" stroke-opacity=".75"/>
<path d="M2603.2,459.8A1346.5,1346.5 0 0 1 2644,448.6L2663.7,525.1A1267.5,1267.5 0 0 0 2625.3,535.6Z" fill="#ffec00" stroke="#1a1a1a" stroke-width="1.5" stroke-opacity=".75"/>
<path d="M2650.8,446.9A1346.5,1346.5 0 0 1 2672.5,441.6L2690.6,518.5A1267.5,1267.5 0 0 0 2670.1,523.5Z" fill="#ffec00" stroke="#1a1a1a" stroke-width="1.5" stroke-opacity=".75"/>
<line x1="2715.6" y1="419.5" x2="2699.6" y2="339" stroke="#1b298c" stroke-width="3.8"/>
<path d="M2712.9,336.5A1441,1441 0 0 1 2747.6,330.4L2760.8,411.3A1359,1359 0 0 0 2728.1,417Z" fill="#1b298c" stroke="#1a1a1a" stroke-width="1.5" stroke-opacity=".75"/>
<line x1="2808.9" y1="416.9" x2="2818.9" y2="495.3" stroke="#1b298c" stroke-width="3.8"/>
<path d="M2831.1,414.3A1346.5,1346.5 0 0 1 2860.3,411.3L2867.3,490A1267.5,1267.5 0 0 0 2839.8,492.8Z" fill="#e0ae79" stroke="#1a1a1a" stroke-width="1.5" stroke-opacity=".75"/>
<line x1="2882.1" y1="397" x2="2876.2" y2="315.2" stroke="#1b298c" stroke-width="3.8"/>
</g>
<line x1="3183.6" y1="422" x2="3171.8" y2="499.1" stroke="#666" stroke-width="3"/>
<line x1="3906" y1="775.7" x2="3852.4" y2="832.3" stroke="#555" stroke-width="4"/>
<line x1="3479.2" y1="488.5" x2="3509.3" y2="412.2" stroke="#000" stroke-width="4"/>
<line x1="3117.7" y1="3091.4" x2="3109.7" y2="3013.9" stroke="#000" stroke-width="3.5"/>
<line x1="2466.4" y1="508.3" x2="2496.2" y2="580.4" stroke="#000" stroke-width="4.5"/>
<line x1="2602.7" y1="460.5" x2="2624.5" y2="535.3" stroke="#000" stroke-width="4"/>
<line x1="4321.3" y1="2016.1" x2="4394.9" y2="2030.6" stroke="#555" stroke-width="4"/>
<line x1="1659" y1="2010.9" x2="1735.6" y2="1996" stroke="#555" stroke-width="4"/>
<line x1="1953" y1="882.5" x2="2012.5" y2="932.9" stroke="#222" stroke-width="3"/>
<circle cx="2980.0" cy="1752.5" r="1353" fill="none" stroke="#000" stroke-width="11"/>
<path d="M4327.3,1914.8A1357,1357 0 0 1 3459.7,3021.9" fill="none" stroke="#000" stroke-width="22"/>
<path d="M2499.2,3021.5A1357,1357 0 0 1 1632.7,1914.3" fill="none" stroke="#000" stroke-width="22"/>
<g font-family="Liberation Sans, sans-serif" font-style="italic" font-size="34" fill="#000" stroke="#000" stroke-width="0.9">
<text transform="translate(2971.6,497.5) rotate(89.6)" text-anchor="start" dy="12">ycf3</text>
<text transform="translate(3111.7,504.4) rotate(-84)" text-anchor="end" dy="15">psaA</text>
<text transform="translate(3225.9,521.8) rotate(-78.7)" text-anchor="end" dy="15">psaB</text>
<text transform="translate(3254.4,668.7) rotate(-75.8)" text-anchor="end" dy="15">rps14</text>
<text transform="translate(3286.7,677.4) rotate(-74.1)" text-anchor="end" dy="15">tRNA-CAU</text>
<text transform="translate(3420.9,226.9) rotate(-73.9)" text-anchor="start" dy="15">tRNA-GCC</text>
<text transform="translate(3454.3,237) rotate(-72.6)" text-anchor="start" dy="15">psbZ</text>
<text transform="translate(3365.3,558.1) rotate(-72.1)" text-anchor="end" dy="15">tRNA-UGA</text>
<text transform="translate(3476,387.8) rotate(-70)" text-anchor="start" dy="15">psbC</text>
<text transform="translate(3542.1,413.7) rotate(-67.2)" text-anchor="start" dy="15">psbD</text>
<text transform="translate(3633.5,455.9) rotate(-63.2)" text-anchor="start" dy="15">tRNA-GGU</text>
<text transform="translate(3499.7,762.6) rotate(-62.3)" text-anchor="end" dy="15">tRNA-UUC</text>
<text transform="translate(3530.5,779.4) rotate(-60.5)" text-anchor="end" dy="15">tRNA-GUA</text>
<text transform="translate(3560.2,796.8) rotate(-58.7)" text-anchor="end" dy="15">tRNA-GUC</text>
<text transform="translate(3589.2,815.1) rotate(-57)" text-anchor="end" dy="15">psbM</text>
<text transform="translate(3842.6,419.2) rotate(-57.1)" text-anchor="start" dy="15">petN</text>
<text transform="translate(3872.1,438.8) rotate(-55.8)" text-anchor="start" dy="15">tRNA-GCA</text>
<text transform="translate(3780,785.5) rotate(-50.4)" text-anchor="end" dy="15">rpoB</text>
<text transform="translate(3895,893.6) rotate(-43.2)" text-anchor="end" dy="15">rpoC1</text>
<text transform="translate(4012.7,1039.4) rotate(-34.6)" text-anchor="end" dy="15">rpoC2</text>
<text transform="translate(4086,1159.4) rotate(-28.2)" text-anchor="end" dy="15">rps2</text>
<text transform="translate(4108,1202.3) rotate(-26)" text-anchor="end" dy="15">atpI</text>
<text transform="translate(4137.4,1267.2) rotate(-22.8)" text-anchor="end" dy="15">atpH</text>
<text transform="translate(4162.5,1332.2) rotate(-19.6)" text-anchor="end" dy="15">atpF</text>
<text transform="translate(4186.3,1406.2) rotate(-16)" text-anchor="end" dy="15">atpA</text>
<text transform="translate(4390.1,1406.1) rotate(-13.8)" text-anchor="start" dy="15">tRNA-UCU</text>
<text transform="translate(4398.1,1440.7) rotate(-12.4)" text-anchor="start" dy="15">tRNA-CGA</text>
<text transform="translate(4217.2,1542.1) rotate(-9.7)" text-anchor="end" dy="15">tRNA-GCU</text>
<text transform="translate(4545.4,1485.5) rotate(-9.7)" text-anchor="start" dy="15">psbI</text>
<text transform="translate(4550.6,1517.8) rotate(-8.5)" text-anchor="start" dy="15">psbK</text>
<text transform="translate(4224.3,1588.7) rotate(-7.5)" text-anchor="end" dy="15">tRNA-UUG</text>
<text transform="translate(4231.2,1654.7) rotate(-4.5)" text-anchor="end" dy="15">rps16</text>
<text transform="translate(4098,1749.2) rotate(-0.2)" text-anchor="end" dy="15">tRNA-UUU</text>
<text transform="translate(4097.5,1785.7) rotate(1.7)" text-anchor="end" dy="15">matK</text>
<text transform="translate(4229.4,1870.6) rotate(5.4)" text-anchor="end" dy="15">psbA</text>
<text transform="translate(4225,1910.9) rotate(7.2)" text-anchor="end" dy="15">tRNA-GUG</text>
<text transform="translate(4413.6,1988.9) rotate(9.4)" text-anchor="start" dy="15">rpl2</text>
<text transform="translate(4537.2,2063.7) rotate(11.3)" text-anchor="start" dy="15">rpl23</text>
<text transform="translate(4530.1,2097.6) rotate(12.5)" text-anchor="start" dy="15">tRNA-CAU</text>
<text transform="translate(4156.7,2188.9) rotate(20.3)" text-anchor="end" dy="15">ycf2</text>
<text transform="translate(4227.2,2498) rotate(30.9)" text-anchor="start" dy="15">tRNA-CAA</text>
<text transform="translate(4172.6,2582.5) rotate(34.8)" text-anchor="start" dy="15">ndhB</text>
<text transform="translate(4113,2662.2) rotate(38.8)" text-anchor="start" dy="15">rps7</text>
<text transform="translate(4066.9,2716.8) rotate(41.6)" text-anchor="start" dy="15">rps12</text>
<text transform="translate(3808.4,2503.3) rotate(42.2)" text-anchor="end" dy="15">psbI</text>
<text transform="translate(3782.7,2530.7) rotate(44.1)" text-anchor="end" dy="15">ycf15</text>
<text transform="translate(3855.4,2651.8) rotate(45.8)" text-anchor="end" dy="15">tRNA-GAC</text>
<text transform="translate(3817.6,2687.1) rotate(48.1)" text-anchor="end" dy="15">rrn16</text>
<text transform="translate(3755.7,2739.1) rotate(51.8)" text-anchor="end" dy="15">tRNA-GAU</text>
<text transform="translate(3714.1,2770.4) rotate(54.2)" text-anchor="end" dy="15">tRNA-UGC</text>
<text transform="translate(3626.1,2828.4) rotate(59)" text-anchor="end" dy="15">rrn23</text>
<text transform="translate(3509.7,2737.1) rotate(61.7)" text-anchor="end" dy="15">rrn4.5</text>
<text transform="translate(3479.2,2752.9) rotate(63.5)" text-anchor="end" dy="15">rrn5</text>
<text transform="translate(3450,2766.9) rotate(65.1)" text-anchor="end" dy="15">tRNA-ACG</text>
<text transform="translate(3582.5,3074.7) rotate(65.5)" text-anchor="start" dy="15">tRNA-GUU</text>
<text transform="translate(3349,2952) rotate(72.9)" text-anchor="end" dy="15">ycf1</text>
<text transform="translate(3184.5,2990.7) rotate(80.6)" text-anchor="end" dy="15">rps15</text>
<text transform="translate(3138.3,2997.5) rotate(82.8)" text-anchor="end" dy="15">ndhH</text>
<text transform="translate(3054.6,3005.3) rotate(86.6)" text-anchor="end" dy="15">ndhA</text>
<text transform="translate(2980.3,3007.5) rotate(90)" text-anchor="end" dy="15">ndhI</text>
<text transform="translate(2933.8,3006.6) rotate(-87.9)" text-anchor="start" dy="12">ndhG</text>
<text transform="translate(2900.1,3005) rotate(-86.4)" text-anchor="start" dy="12">ndhE</text>
<text transform="translate(2866,3002.3) rotate(-84.8)" text-anchor="start" dy="12">psaC</text>
<text transform="translate(2812.6,2996.3) rotate(-82.3)" text-anchor="start" dy="12">ndhD</text>
<text transform="translate(2705.4,3178.3) rotate(-79.1)" text-anchor="end" dy="12">ccsA</text>
<text transform="translate(2669.9,3171) rotate(-77.7)" text-anchor="end" dy="12">tRNA-UAG</text>
<text transform="translate(2618.7,3158.8) rotate(-75.6)" text-anchor="end" dy="12">rpl32</text>
<text transform="translate(2589.9,2945.3) rotate(-71.9)" text-anchor="start" dy="12">ndhF</text>
<text transform="translate(1741.5,1955.6) rotate(-9.3)" text-anchor="start" dy="12">rpl2</text>
<text transform="translate(1882.7,1966.8) rotate(-11.1)" text-anchor="start" dy="12">rpl23</text>
<text transform="translate(1888.9,1996.4) rotate(-12.6)" text-anchor="start" dy="12">tRNA-CAU</text>
<text transform="translate(1617.2,2256.6) rotate(-20.3)" text-anchor="end" dy="12">ycf2</text>
<text transform="translate(1902.2,2395.5) rotate(-30.8)" text-anchor="start" dy="12">tRNA-CAA</text>
<text transform="translate(1949.3,2468.5) rotate(-34.8)" text-anchor="start" dy="12">ndhB</text>
<text transform="translate(2000.7,2537.4) rotate(-38.7)" text-anchor="start" dy="12">rps7</text>
<text transform="translate(2040.5,2584.6) rotate(-41.5)" text-anchor="start" dy="12">rps12</text>
<text transform="translate(1929.5,2756.4) rotate(-43.7)" text-anchor="end" dy="12">ycf15</text>
<text transform="translate(1965.6,2792.8) rotate(-45.7)" text-anchor="end" dy="12">tRNA-GAC</text>
<text transform="translate(2009.4,2833.7) rotate(-48.1)" text-anchor="end" dy="12">rrn16</text>
<text transform="translate(2081,2894) rotate(-51.8)" text-anchor="end" dy="12">tRNA-GAU</text>
<text transform="translate(2129,2930.2) rotate(-54.1)" text-anchor="end" dy="12">tRNA-UGC</text>
<text transform="translate(2230.9,2997.5) rotate(-59)" text-anchor="end" dy="12">rrn23</text>
<text transform="translate(2238.2,3156.6) rotate(-62.2)" text-anchor="end" dy="12">rrn4.5</text>
<text transform="translate(2268.5,3172.2) rotate(-63.4)" text-anchor="end" dy="12">rrn5</text>
<text transform="translate(2299.9,3187.5) rotate(-64.6)" text-anchor="end" dy="12">tRNA-ACG</text>
<text transform="translate(2458.6,2894) rotate(-65.4)" text-anchor="start" dy="12">tRNA-GUU</text>
<text transform="translate(2429.8,3097.3) rotate(-67.8)" text-anchor="end" dy="12">ycf1</text>
<text transform="translate(1538.9,1937.9) rotate(-7.3)" text-anchor="end" dy="12">tRNA-GUG</text>
<text transform="translate(1870.6,1890.7) rotate(-7.1)" text-anchor="start" dy="12">rps19</text>
<text transform="translate(1866.9,1856.7) rotate(-5.4)" text-anchor="start" dy="12">rpl22</text>
<text transform="translate(1864.2,1822.7) rotate(-3.6)" text-anchor="start" dy="12">rps3</text>
<text transform="translate(1862.2,1774.5) rotate(-1.1)" text-anchor="start" dy="12">rpl16</text>
<text transform="translate(1862.1,1740.8) rotate(0.6)" text-anchor="start" dy="12">rpl14</text>
<text transform="translate(1863,1705.7) rotate(2.4)" text-anchor="start" dy="12">rps8</text>
<text transform="translate(1865,1670.6) rotate(4.2)" text-anchor="start" dy="12">rpl36</text>
<text transform="translate(1868.1,1636.2) rotate(6)" text-anchor="start" dy="12">rps11</text>
<text transform="translate(1734.1,1601.5) rotate(6.9)" text-anchor="start" dy="12">rpoA</text>
<text transform="translate(1546.3,1522.9) rotate(9.1)" text-anchor="end" dy="12">petD</text>
<text transform="translate(1564.1,1430.9) rotate(12.8)" text-anchor="end" dy="12">petB</text>
<text transform="translate(1454,1313.2) rotate(16.1)" text-anchor="end" dy="12">psbH</text>
<text transform="translate(1463,1282.9) rotate(17.2)" text-anchor="end" dy="12">psbT</text>
<text transform="translate(1611.7,1266.6) rotate(19.6)" text-anchor="end" dy="12">psbB</text>
<text transform="translate(1840.2,1227.3) rotate(24.7)" text-anchor="start" dy="12">clpP</text>
<text transform="translate(1892.4,1126.2) rotate(29.9)" text-anchor="start" dy="12">rpl20</text>
<text transform="translate(1623.3,927.3) rotate(31.3)" text-anchor="end" dy="12">rps18</text>
<text transform="translate(1641.4,898.1) rotate(32.6)" text-anchor="end" dy="12">rpl33</text>
<text transform="translate(1776.7,939.9) rotate(34)" text-anchor="end" dy="12">psaJ</text>
<text transform="translate(2050.7,1130.9) rotate(33.8)" text-anchor="start" dy="12">tRNA-UGG</text>
<text transform="translate(2069.8,1103.3) rotate(35.5)" text-anchor="start" dy="12">tRNA-CCA</text>
<text transform="translate(1692,823.6) rotate(35.8)" text-anchor="end" dy="12">petG</text>
<text transform="translate(1712.8,795.5) rotate(37.1)" text-anchor="end" dy="12">petL</text>
<text transform="translate(2092.1,1073.1) rotate(37.4)" text-anchor="start" dy="12">psbE</text>
<text transform="translate(2113.4,1046.2) rotate(39.2)" text-anchor="start" dy="12">psbF</text>
<text transform="translate(2135,1020.5) rotate(40.9)" text-anchor="start" dy="12">psbL</text>
<text transform="translate(2157,995.8) rotate(42.6)" text-anchor="start" dy="12">psbJ</text>
<text transform="translate(1945.9,733.2) rotate(44.6)" text-anchor="end" dy="12">petA</text>
<text transform="translate(1990.1,690.2) rotate(47)" text-anchor="end" dy="12">cemA</text>
<text transform="translate(2054.3,633.9) rotate(50.4)" text-anchor="end" dy="12">ycf4</text>
<text transform="translate(2086.1,608.3) rotate(52)" text-anchor="end" dy="12">psaI</text>
<text transform="translate(2162.4,552.6) rotate(55.7)" text-anchor="end" dy="12">accD</text>
<text transform="translate(2273.4,484) rotate(60.9)" text-anchor="end" dy="12">rbcL</text>
<text transform="translate(2461.6,609.6) rotate(65.6)" text-anchor="start" dy="12">atpB</text>
<text transform="translate(2501.8,592.2) rotate(67.6)" text-anchor="start" dy="12">atpE</text>
<text transform="translate(2461.8,396.1) rotate(69.1)" text-anchor="end" dy="12">tRNA-CAU</text>
<text transform="translate(2558.4,570.4) rotate(70.4)" text-anchor="start" dy="12">tRNA-AAU</text>
<text transform="translate(2655.7,682.6) rotate(73.1)" text-anchor="start" dy="12">ndhC</text>
<text transform="translate(2685,674.1) rotate(74.7)" text-anchor="start" dy="12">ndhK</text>
<text transform="translate(2683.3,533.1) rotate(76.3)" text-anchor="start" dy="12">ndhJ</text>
<text transform="translate(2691.8,329.4) rotate(78.6)" text-anchor="end" dy="12">tRNA-GAA</text>
<text transform="translate(2727.9,322.6) rotate(80)" text-anchor="end" dy="12">tRNA-UAA</text>
<text transform="translate(2816.2,508.2) rotate(82.5)" text-anchor="start" dy="12">tRNA-UGU</text>
<text transform="translate(2853.2,503.9) rotate(84.2)" text-anchor="start" dy="12">rps4</text>
<text transform="translate(2869.9,304.7) rotate(85.6)" text-anchor="end" dy="12">tRNA-GGA</text>
</g>
<path d="M3297.9,534.3L3275.4,620.4L3256.9,659M3316.5,539.3L3292.7,625.1L3289.4,667.8M3382.1,360.4L3406.5,275.9L3419,233.7M3409.1,368.5L3435.1,284.4L3452.3,243.7M3581.7,646.6L3539.2,724.8L3504.3,753.8M3587.1,649.5L3544.2,727.5L3535.5,770.7M3603.8,658.9L3559.7,736.2L3565.3,788.3M3652.7,688.3L3605.2,763.5L3594.7,806.7M3769.8,537.7L3817.8,463.9L3838.8,425.1M3792.8,552.9L3842.1,480.1L3868.2,444.6M4409.4,1515.1L4496.2,1500.7L4538.5,1486.7M4412.1,1532.1L4499.1,1518.7L4543.6,1518.8M4239,1763.5L4150,1762.7L4108,1749.2M4238.8,1775.2L4149.8,1773.6L4107.5,1786M4400.1,2040.5L4486.3,2058L4530.4,2062.3M4395.8,2060.7L4481.8,2079.4L4523.2,2096M3908.7,2602.6L3843,2542.5L3815.8,2510.1M3889.5,2623.1L3825.2,2561.6L3789.9,2537.6M3555.5,2872.3L3514.8,2793.1L3514.4,2745.9M3539.1,2880.5L3499.6,2800.8L3483.7,2761.8M3526.4,2886.8L3487.7,2806.6L3454.2,2776M1745.9,2001.7L1833.1,1984.1L1872.9,1968.7M1749.6,2019.2L1836.6,2000.3L1879.2,1998.6M2316.5,3040.7L2276.2,3118.9L2241.4,3150.4M2335.4,3050.2L2296.2,3129L2271.6,3165.9M2350,3057.4L2311.8,3136.6L2302.9,3181.1M1729.3,1896.9L1817.7,1886.7L1860.6,1891.9M1726.8,1873.2L1815.4,1864.6L1856.9,1857.7M1724.3,1843.3L1813,1836.9L1854.2,1823.3M1721,1754.7L1810,1754.5L1852.2,1774.7M1721.2,1729.5L1810.2,1731.2L1852.1,1740.7M1722.2,1698.6L1811.1,1702.4L1853,1705.3M1724.3,1661.9L1813,1668.3L1855,1669.9M1725.9,1641.1L1814.6,1649L1858.1,1635.2M1587.7,1351.2L1503.1,1326.8L1460.7,1315.1M1595.5,1325L1511.4,1299L1469.7,1285M1744.2,995.9L1669.1,950L1629.2,930.9M1757.4,974.8L1683.1,927.6L1647.3,901.9M1949.1,1029.8L2021.9,1080.9L2042.4,1125.3M1956.3,1019.6L2028.7,1071.4L2061.7,1097.5M1809.2,898.8L1738.1,846.9L1697.7,827.7M1819.3,885.1L1748.8,832.4L1718.4,799.7M2015,943.9L2083.2,1001.1L2084.1,1067.1M2021.4,936.3L2089.1,994L2105.6,1039.9M2025.7,931.3L2093.1,989.4L2127.4,1014M2034.5,921.1L2101.4,979.9L2149.7,989M2619.2,546.3L2644.7,631.6L2652.8,673M2646.7,538.4L2670.3,624.2L2682.4,664.5" fill="none" stroke="#8a8a8a" stroke-width="2.2"/>
<g font-family="Liberation Serif, serif" font-weight="bold" fill="#000">
<text x="2997" y="1575" text-anchor="middle" font-size="115" font-style="italic">Fritillaria</text>
<text x="3039" y="1723" text-anchor="middle" font-size="93.7">chloroplast genome</text>
<text x="3047" y="1903" text-anchor="middle" font-size="93">151,076~152,043 bp</text>
</g>
<g font-family="Liberation Sans, sans-serif" font-size="70.5" fill="#000" stroke="#000" stroke-width="0.8">
<rect x="49.3" y="2018.8" width="79" height="78" fill="#006633" stroke="#000" stroke-width="6.6" />
<text x="160" y="2087.5">photosystem I</text>
<rect x="49.3" y="2125" width="79" height="78" fill="#338c2b" stroke="#000" stroke-width="6.6" />
<text x="160" y="2193.7">photosystem II</text>
<rect x="49.3" y="2231.1" width="79" height="78" fill="#7f9f1d" stroke="#000" stroke-width="6.6" />
<text x="160" y="2299.8">cytochrome b/f complex</text>
<rect x="49.3" y="2337.3" width="79" height="78" fill="#9bc014" stroke="#000" stroke-width="6.6" />
<text x="160" y="2406">ATP synthase</text>
<rect x="49.3" y="2443.5" width="79" height="78" fill="#ffec00" stroke="#000" stroke-width="6.6" />
<text x="160" y="2512.2">NADH dehydrogenase</text>
<rect x="49.3" y="2549.7" width="79" height="78" fill="#20a130" stroke="#000" stroke-width="6.6" />
<text x="160" y="2618.3">RubisCO large subunit</text>
<rect x="49.3" y="2655.8" width="79" height="78" fill="#c1121f" stroke="#000" stroke-width="6.6" />
<text x="160" y="2724.5">RNA polymerase</text>
<rect x="49.3" y="2762" width="79" height="78" fill="#e0ae79" stroke="#000" stroke-width="6.6" />
<text x="160" y="2830.7">ribosomal proteins (SSU)</text>
<rect x="49.3" y="2868.2" width="79" height="78" fill="#a07c46" stroke="#000" stroke-width="6.6" />
<text x="160" y="2936.9">ribosomal proteins (LSU)</text>
<rect x="49.3" y="2974.3" width="79" height="78" fill="#ea6112" stroke="#000" stroke-width="6.6" />
<text x="160" y="3043">clpP, matK</text>
<rect x="49.3" y="3080.5" width="79" height="78" fill="#ab2397" stroke="#000" stroke-width="6.6" />
<text x="160" y="3149.2">other genes</text>
<rect x="49.3" y="3186.7" width="79" height="78" fill="#fffad4" stroke="#000" stroke-width="6.6" />
<text x="160" y="3255.4">hypothetical chloroplast reading frames (ycf)</text>
<rect x="49.3" y="3292.8" width="79" height="78" fill="#5ebaaa" stroke="#000" stroke-width="6.6" />
<text x="160" y="3361.5">ORFs</text>
<rect x="49.3" y="3399" width="79" height="78" fill="#1b298c" stroke="#000" stroke-width="6.6" />
<text x="160" y="3467.7">transfer RNAs</text>
<rect x="49.3" y="3505.2" width="79" height="78" fill="#e2001a" stroke="#000" stroke-width="6.6" />
<text x="160" y="3573.9">ribosomal RNAs</text>
<rect x="49.3" y="3611.4" width="79" height="78" fill="#ff8080" stroke="#000" stroke-width="6.6" />
<text x="160" y="3680.1">origin of replication</text>
</g>
</svg>
</body></html>
